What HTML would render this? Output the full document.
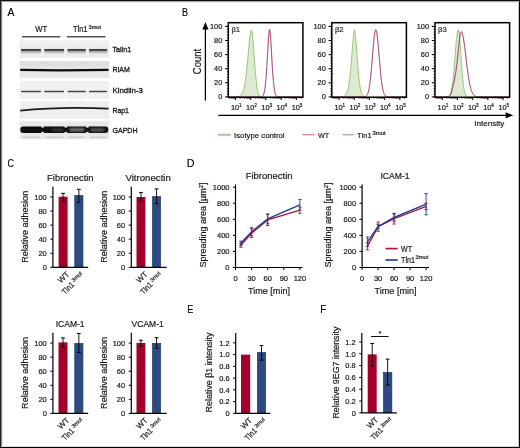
<!DOCTYPE html><html><head><meta charset="utf-8"><style>html,body{margin:0;padding:0;background:#fff;overflow:hidden}svg{display:block;will-change:transform}text{font-family:"Liberation Sans",sans-serif;stroke:#1a1a1a;stroke-width:0.2px;paint-order:stroke}</style></head><body>
<svg width="520" height="448" viewBox="0 0 520 448">
<defs><filter id="b1" x="-10%" y="-200%" width="120%" height="500%"><feGaussianBlur stdDeviation="0.6"/></filter><filter id="b2" x="-10%" y="-200%" width="120%" height="500%"><feGaussianBlur stdDeviation="0.9"/></filter><filter id="b3" x="-10%" y="-50%" width="120%" height="200%"><feGaussianBlur stdDeviation="0.5"/></filter></defs>
<rect x="0.00" y="0.00" width="520.00" height="448.00" fill="#fff" />
<rect x="0" y="0" width="520" height="1" fill="#0d0d0d"/><rect x="0" y="1" width="520" height="1" fill="#a6a6a6"/><rect x="0" y="2" width="520" height="1" fill="#f0f0f0"/>
<rect x="0" y="0" width="1" height="448" fill="#1e1e1e"/><rect x="1" y="1" width="1" height="447" fill="#8a8a8a"/><rect x="2" y="2" width="1" height="446" fill="#e4e4e4"/>
<rect x="519" y="0" width="1" height="448" fill="#000"/><rect x="518" y="1" width="1" height="446" fill="#c8c8c8"/>
<rect x="0" y="447" width="520" height="1" fill="#000"/><rect x="1" y="446" width="518" height="1" fill="#d8d8d8"/>
<text x="7.60" y="16.00" font-size="11.5" text-anchor="start" fill="#000" textLength="6.90" lengthAdjust="spacingAndGlyphs" style="stroke:#000;stroke-width:0.15px">A</text>
<text x="182.00" y="15.80" font-size="11.5" text-anchor="start" fill="#000" textLength="6.00" lengthAdjust="spacingAndGlyphs" style="stroke:#000;stroke-width:0.15px">B</text>
<text x="7.50" y="167.00" font-size="11.5" text-anchor="start" fill="#000" textLength="6.50" lengthAdjust="spacingAndGlyphs" style="stroke:#000;stroke-width:0.15px">C</text>
<text x="186.80" y="166.70" font-size="11.5" text-anchor="start" fill="#000" textLength="7.80" lengthAdjust="spacingAndGlyphs" style="stroke:#000;stroke-width:0.15px">D</text>
<text x="187.30" y="312.60" font-size="11.5" text-anchor="start" fill="#000" textLength="6.00" lengthAdjust="spacingAndGlyphs" style="stroke:#000;stroke-width:0.15px">E</text>
<text x="320.30" y="313.00" font-size="11.5" text-anchor="start" fill="#000" textLength="5.90" lengthAdjust="spacingAndGlyphs" style="stroke:#000;stroke-width:0.15px">F</text>
<text x="35.30" y="32.20" font-size="8.2" text-anchor="start" fill="#1a1a1a" textLength="11.90" lengthAdjust="spacingAndGlyphs" >WT</text>
<text x="72.90" y="32.20" font-size="8.2" text-anchor="start" fill="#1a1a1a" textLength="14.60" lengthAdjust="spacingAndGlyphs" >Tln1</text>
<text x="88.50" y="28.60" font-size="5.0" text-anchor="start" fill="#1a1a1a" textLength="12.60" lengthAdjust="spacingAndGlyphs" >3mut</text>
<line x1="22.00" y1="36.80" x2="60.40" y2="36.80" stroke="#555" stroke-width="1.4" />
<line x1="67.00" y1="36.80" x2="105.40" y2="36.80" stroke="#555" stroke-width="1.4" />
<defs><linearGradient id="talg" x1="0" y1="0" x2="0" y2="1"><stop offset="0" stop-color="#e9e9e9"/><stop offset="0.16" stop-color="#383838"/><stop offset="0.34" stop-color="#454545"/><stop offset="0.52" stop-color="#9c9c9c"/><stop offset="0.78" stop-color="#c8c8c8"/><stop offset="1" stop-color="#e8e8e8"/></linearGradient><linearGradient id="lanebg" x1="0" y1="0" x2="1" y2="0"><stop offset="0" stop-color="#e4e4e4"/><stop offset="0.5" stop-color="#ebebeb"/><stop offset="1" stop-color="#e4e4e4"/></linearGradient></defs>
<rect x="19.60" y="40.40" width="89.60" height="17.40" fill="#ececec" filter="url(#b3)"/>
<rect x="41.40" y="40.90" width="2.40" height="16.40" fill="#f0f0f0" filter="url(#b3)"/>
<rect x="64.50" y="40.90" width="2.60" height="16.40" fill="#f0f0f0" filter="url(#b3)"/>
<rect x="86.20" y="40.90" width="2.40" height="16.40" fill="#f0f0f0" filter="url(#b3)"/>
<rect x="19.60" y="40.40" width="89.60" height="3.00" fill="#f2f2f2" filter="url(#b3)"/>
<rect x="21.00" y="48.5" width="20.00" height="5.4" fill="url(#talg)" rx="1" filter="url(#b1)"/>
<rect x="44.20" y="48.5" width="19.90" height="5.4" fill="url(#talg)" rx="1" filter="url(#b1)"/>
<rect x="67.50" y="48.5" width="18.30" height="5.4" fill="url(#talg)" rx="1" filter="url(#b1)"/>
<rect x="89.00" y="48.5" width="18.20" height="5.4" fill="url(#talg)" rx="1" filter="url(#b1)"/>
<rect x="19.60" y="61.00" width="89.60" height="17.20" fill="#e6e6e6" filter="url(#b3)"/>
<rect x="19.60" y="61.20" width="89.60" height="5.00" fill="#dfdfdf" filter="url(#b3)"/>
<path d="M20.2,69.9 L60,70.4 L108.6,69.9" stroke="#111" stroke-width="2.1" fill="none" filter="url(#b1)"/>
<rect x="19.60" y="81.00" width="89.60" height="17.80" fill="#f0f0f0" filter="url(#b3)"/>
<rect x="41.40" y="81.50" width="2.40" height="16.80" fill="#f4f4f4" filter="url(#b3)"/>
<rect x="64.50" y="81.50" width="2.60" height="16.80" fill="#f4f4f4" filter="url(#b3)"/>
<rect x="86.20" y="81.50" width="2.40" height="16.80" fill="#f4f4f4" filter="url(#b3)"/>
<rect x="21.00" y="90.8" width="20.00" height="1.5" fill="#444" rx="0.75" filter="url(#b1)"/>
<rect x="44.20" y="90.8" width="19.90" height="1.5" fill="#444" rx="0.75" filter="url(#b1)"/>
<rect x="67.50" y="90.8" width="18.30" height="1.5" fill="#444" rx="0.75" filter="url(#b1)"/>
<rect x="89.00" y="90.8" width="18.20" height="1.5" fill="#444" rx="0.75" filter="url(#b1)"/>
<rect x="19.60" y="101.00" width="89.60" height="17.80" fill="#eeeeee" filter="url(#b3)"/>
<path d="M20.2,110.6 Q60,106.6 108.6,108.6" stroke="#1a1a1a" stroke-width="1.65" fill="none" filter="url(#b1)"/>
<rect x="19.60" y="121.30" width="89.60" height="18.00" fill="#e8e8e8" filter="url(#b3)"/>
<rect x="41.40" y="121.80" width="2.40" height="17.00" fill="#ececec" filter="url(#b3)"/>
<rect x="64.50" y="121.80" width="2.60" height="17.00" fill="#ececec" filter="url(#b3)"/>
<rect x="86.20" y="121.80" width="2.40" height="17.00" fill="#ececec" filter="url(#b3)"/>
<rect x="20.3" y="126.6" width="88.0" height="6.3" rx="3" fill="#0b0b0b" filter="url(#b1)"/>
<ellipse cx="42.6" cy="126.4" rx="1.5" ry="1.3" fill="#e2e2e2" filter="url(#b1)"/>
<ellipse cx="42.6" cy="133.1" rx="1.5" ry="1.3" fill="#e2e2e2" filter="url(#b1)"/>
<ellipse cx="65.8" cy="126.4" rx="1.5" ry="1.3" fill="#e2e2e2" filter="url(#b1)"/>
<ellipse cx="65.8" cy="133.1" rx="1.5" ry="1.3" fill="#e2e2e2" filter="url(#b1)"/>
<ellipse cx="87.4" cy="126.4" rx="1.5" ry="1.3" fill="#e2e2e2" filter="url(#b1)"/>
<ellipse cx="87.4" cy="133.1" rx="1.5" ry="1.3" fill="#e2e2e2" filter="url(#b1)"/>
<ellipse cx="57.5" cy="130.0" rx="6.5" ry="1.6" fill="#3a3a3a" filter="url(#b2)"/>
<rect x="69.0" y="128.0" width="15.5" height="3.6" rx="1.8" fill="#737373" filter="url(#b2)"/>
<rect x="90.0" y="128.2" width="14.5" height="3.2" rx="1.6" fill="#5e5e5e" filter="url(#b2)"/>
<rect x="22.00" y="136.60" width="18.00" height="1.40" fill="#cdcdcd" filter="url(#b1)"/>
<rect x="45.20" y="136.60" width="17.90" height="1.40" fill="#cdcdcd" filter="url(#b1)"/>
<rect x="68.50" y="136.60" width="16.30" height="1.40" fill="#cdcdcd" filter="url(#b1)"/>
<rect x="90.00" y="136.60" width="16.20" height="1.40" fill="#cdcdcd" filter="url(#b1)"/>
<text x="112.40" y="51.90" font-size="8.1" text-anchor="start" fill="#1a1a1a" textLength="18.80" lengthAdjust="spacingAndGlyphs" style="stroke-width:0.32px">Talin1</text>
<text x="112.40" y="72.00" font-size="8.1" text-anchor="start" fill="#1a1a1a" textLength="17.40" lengthAdjust="spacingAndGlyphs" style="stroke-width:0.32px">RIAM</text>
<text x="112.40" y="92.70" font-size="8.1" text-anchor="start" fill="#1a1a1a" textLength="30.60" lengthAdjust="spacingAndGlyphs" style="stroke-width:0.32px">Kindlin-3</text>
<text x="112.40" y="112.50" font-size="8.1" text-anchor="start" fill="#1a1a1a" textLength="16.60" lengthAdjust="spacingAndGlyphs" style="stroke-width:0.32px">Rap1</text>
<text x="112.40" y="132.50" font-size="8.1" text-anchor="start" fill="#1a1a1a" textLength="25.20" lengthAdjust="spacingAndGlyphs" style="stroke-width:0.32px">GAPDH</text>
<clipPath id="cp228"><rect x="228.3" y="22.7" width="74.6" height="74.6"/></clipPath>
<g clip-path="url(#cp228)">
<path d="M228.3,96.90 L228.6,96.90 L228.9,96.90 L229.2,96.90 L229.5,96.90 L229.9,96.90 L230.2,96.90 L230.5,96.90 L230.8,96.90 L231.1,96.90 L231.4,96.90 L231.7,96.90 L232.0,96.90 L232.3,96.90 L232.7,96.90 L233.0,96.90 L233.3,96.89 L233.6,96.89 L233.9,96.89 L234.2,96.89 L234.5,96.88 L234.8,96.88 L235.1,96.87 L235.4,96.86 L235.8,96.85 L236.1,96.84 L236.4,96.82 L236.7,96.80 L237.0,96.78 L237.3,96.74 L237.6,96.70 L237.9,96.65 L238.2,96.59 L238.6,96.52 L238.9,96.43 L239.2,96.32 L239.5,96.18 L239.8,96.02 L240.1,95.83 L240.4,95.59 L240.7,95.32 L241.0,94.99 L241.4,94.61 L241.7,94.16 L242.0,93.64 L242.3,93.03 L242.6,92.32 L242.9,91.51 L243.2,90.59 L243.5,89.53 L243.8,88.34 L244.2,87.00 L244.5,85.50 L244.8,83.82 L245.1,81.98 L245.4,79.94 L245.7,77.73 L246.0,75.32 L246.3,72.74 L246.6,69.97 L246.9,67.04 L247.3,63.96 L247.6,60.76 L247.9,57.46 L248.2,54.09 L248.5,50.71 L248.8,47.35 L249.1,44.06 L249.4,40.93 L249.7,38.00 L250.1,35.36 L250.4,33.09 L250.7,31.30 L251.0,30.11 L251.3,29.82 L251.6,30.44 L251.9,31.77 L252.2,33.78 L252.5,36.41 L252.9,39.57 L253.2,43.16 L253.5,47.08 L253.8,51.23 L254.1,55.49 L254.4,59.77 L254.7,63.98 L255.0,68.03 L255.3,71.86 L255.7,75.42 L256.0,78.68 L256.3,81.62 L256.6,84.22 L256.9,86.50 L257.2,88.46 L257.5,90.13 L257.8,91.53 L258.1,92.68 L258.5,93.63 L258.8,94.39 L259.1,94.99 L259.4,95.47 L259.7,95.84 L260.0,96.12 L260.3,96.33 L260.6,96.49 L260.9,96.61 L261.2,96.70 L261.6,96.76 L261.9,96.80 L262.2,96.83 L262.5,96.86 L262.8,96.87 L263.1,96.88 L263.4,96.89 L263.7,96.89 L264.0,96.89 L264.4,96.90 L264.7,96.90 L265.0,96.90 L265.3,96.90 L265.6,96.90 L265.9,96.90 L266.2,96.90 L266.5,96.90 L266.8,96.90 L267.2,96.90 L267.5,96.90 L267.8,96.90 L268.1,96.90 L268.4,96.90 L268.7,96.90 L269.0,96.90 L269.3,96.90 L269.6,96.90 L270.0,96.90 L270.3,96.90 L270.6,96.90 L270.9,96.90 L271.2,96.90 L271.5,96.90 L271.8,96.90 L272.1,96.90 L272.4,96.90 L272.7,96.90 L273.1,96.90 L273.4,96.90 L273.7,96.90 L274.0,96.90 L274.3,96.90 L274.6,96.90 L274.9,96.90 L275.2,96.90 L275.5,96.90 L275.9,96.90 L276.2,96.90 L276.5,96.90 L276.8,96.90 L277.1,96.90 L277.4,96.90 L277.7,96.90 L278.0,96.90 L278.3,96.90 L278.7,96.90 L279.0,96.90 L279.3,96.90 L279.6,96.90 L279.9,96.90 L280.2,96.90 L280.5,96.90 L280.8,96.90 L281.1,96.90 L281.5,96.90 L281.8,96.90 L282.1,96.90 L282.4,96.90 L282.7,96.90 L283.0,96.90 L283.3,96.90 L283.6,96.90 L283.9,96.90 L284.2,96.90 L284.6,96.90 L284.9,96.90 L285.2,96.90 L285.5,96.90 L285.8,96.90 L286.1,96.90 L286.4,96.90 L286.7,96.90 L287.0,96.90 L287.4,96.90 L287.7,96.90 L288.0,96.90 L288.3,96.90 L288.6,96.90 L288.9,96.90 L289.2,96.90 L289.5,96.90 L289.8,96.90 L290.2,96.90 L290.5,96.90 L290.8,96.90 L291.1,96.90 L291.4,96.90 L291.7,96.90 L292.0,96.90 L292.3,96.90 L292.6,96.90 L293.0,96.90 L293.3,96.90 L293.6,96.90 L293.9,96.90 L294.2,96.90 L294.5,96.90 L294.8,96.90 L295.1,96.90 L295.4,96.90 L295.8,96.90 L296.1,96.90 L296.4,96.90 L296.7,96.90 L297.0,96.90 L297.3,96.90 L297.6,96.90 L297.9,96.90 L298.2,96.90 L298.5,96.90 L298.9,96.90 L299.2,96.90 L299.5,96.90 L299.8,96.90 L300.1,96.90 L300.4,96.90 L300.7,96.90 L301.0,96.90 L301.3,96.90 L301.7,96.90 L302.0,96.90 L302.3,96.90 L302.6,96.90 L302.9,96.90 L302.9,98.9 L228.3,98.9 Z" fill="#dde9d0" stroke="none"/>
<path d="M228.3,96.90 L228.6,96.90 L228.9,96.90 L229.2,96.90 L229.5,96.90 L229.9,96.90 L230.2,96.90 L230.5,96.90 L230.8,96.90 L231.1,96.90 L231.4,96.90 L231.7,96.90 L232.0,96.90 L232.3,96.90 L232.7,96.90 L233.0,96.90 L233.3,96.89 L233.6,96.89 L233.9,96.89 L234.2,96.89 L234.5,96.88 L234.8,96.88 L235.1,96.87 L235.4,96.86 L235.8,96.85 L236.1,96.84 L236.4,96.82 L236.7,96.80 L237.0,96.78 L237.3,96.74 L237.6,96.70 L237.9,96.65 L238.2,96.59 L238.6,96.52 L238.9,96.43 L239.2,96.32 L239.5,96.18 L239.8,96.02 L240.1,95.83 L240.4,95.59 L240.7,95.32 L241.0,94.99 L241.4,94.61 L241.7,94.16 L242.0,93.64 L242.3,93.03 L242.6,92.32 L242.9,91.51 L243.2,90.59 L243.5,89.53 L243.8,88.34 L244.2,87.00 L244.5,85.50 L244.8,83.82 L245.1,81.98 L245.4,79.94 L245.7,77.73 L246.0,75.32 L246.3,72.74 L246.6,69.97 L246.9,67.04 L247.3,63.96 L247.6,60.76 L247.9,57.46 L248.2,54.09 L248.5,50.71 L248.8,47.35 L249.1,44.06 L249.4,40.93 L249.7,38.00 L250.1,35.36 L250.4,33.09 L250.7,31.30 L251.0,30.11 L251.3,29.82 L251.6,30.44 L251.9,31.77 L252.2,33.78 L252.5,36.41 L252.9,39.57 L253.2,43.16 L253.5,47.08 L253.8,51.23 L254.1,55.49 L254.4,59.77 L254.7,63.98 L255.0,68.03 L255.3,71.86 L255.7,75.42 L256.0,78.68 L256.3,81.62 L256.6,84.22 L256.9,86.50 L257.2,88.46 L257.5,90.13 L257.8,91.53 L258.1,92.68 L258.5,93.63 L258.8,94.39 L259.1,94.99 L259.4,95.47 L259.7,95.84 L260.0,96.12 L260.3,96.33 L260.6,96.49 L260.9,96.61 L261.2,96.70 L261.6,96.76 L261.9,96.80 L262.2,96.83 L262.5,96.86 L262.8,96.87 L263.1,96.88 L263.4,96.89 L263.7,96.89 L264.0,96.89 L264.4,96.90 L264.7,96.90 L265.0,96.90 L265.3,96.90 L265.6,96.90 L265.9,96.90 L266.2,96.90 L266.5,96.90 L266.8,96.90 L267.2,96.90 L267.5,96.90 L267.8,96.90 L268.1,96.90 L268.4,96.90 L268.7,96.90 L269.0,96.90 L269.3,96.90 L269.6,96.90 L270.0,96.90 L270.3,96.90 L270.6,96.90 L270.9,96.90 L271.2,96.90 L271.5,96.90 L271.8,96.90 L272.1,96.90 L272.4,96.90 L272.7,96.90 L273.1,96.90 L273.4,96.90 L273.7,96.90 L274.0,96.90 L274.3,96.90 L274.6,96.90 L274.9,96.90 L275.2,96.90 L275.5,96.90 L275.9,96.90 L276.2,96.90 L276.5,96.90 L276.8,96.90 L277.1,96.90 L277.4,96.90 L277.7,96.90 L278.0,96.90 L278.3,96.90 L278.7,96.90 L279.0,96.90 L279.3,96.90 L279.6,96.90 L279.9,96.90 L280.2,96.90 L280.5,96.90 L280.8,96.90 L281.1,96.90 L281.5,96.90 L281.8,96.90 L282.1,96.90 L282.4,96.90 L282.7,96.90 L283.0,96.90 L283.3,96.90 L283.6,96.90 L283.9,96.90 L284.2,96.90 L284.6,96.90 L284.9,96.90 L285.2,96.90 L285.5,96.90 L285.8,96.90 L286.1,96.90 L286.4,96.90 L286.7,96.90 L287.0,96.90 L287.4,96.90 L287.7,96.90 L288.0,96.90 L288.3,96.90 L288.6,96.90 L288.9,96.90 L289.2,96.90 L289.5,96.90 L289.8,96.90 L290.2,96.90 L290.5,96.90 L290.8,96.90 L291.1,96.90 L291.4,96.90 L291.7,96.90 L292.0,96.90 L292.3,96.90 L292.6,96.90 L293.0,96.90 L293.3,96.90 L293.6,96.90 L293.9,96.90 L294.2,96.90 L294.5,96.90 L294.8,96.90 L295.1,96.90 L295.4,96.90 L295.8,96.90 L296.1,96.90 L296.4,96.90 L296.7,96.90 L297.0,96.90 L297.3,96.90 L297.6,96.90 L297.9,96.90 L298.2,96.90 L298.5,96.90 L298.9,96.90 L299.2,96.90 L299.5,96.90 L299.8,96.90 L300.1,96.90 L300.4,96.90 L300.7,96.90 L301.0,96.90 L301.3,96.90 L301.7,96.90 L302.0,96.90 L302.3,96.90 L302.6,96.90 L302.9,96.90" fill="none" stroke="#8cc46a" stroke-width="0.9"/>
<path d="M228.3,96.90 L228.6,96.90 L228.9,96.90 L229.2,96.90 L229.5,96.90 L229.9,96.90 L230.2,96.90 L230.5,96.90 L230.8,96.90 L231.1,96.90 L231.4,96.90 L231.7,96.90 L232.0,96.90 L232.3,96.90 L232.7,96.90 L233.0,96.90 L233.3,96.90 L233.6,96.90 L233.9,96.90 L234.2,96.90 L234.5,96.90 L234.8,96.90 L235.1,96.90 L235.4,96.90 L235.8,96.90 L236.1,96.90 L236.4,96.90 L236.7,96.90 L237.0,96.90 L237.3,96.90 L237.6,96.90 L237.9,96.90 L238.2,96.90 L238.6,96.90 L238.9,96.90 L239.2,96.90 L239.5,96.90 L239.8,96.90 L240.1,96.90 L240.4,96.90 L240.7,96.90 L241.0,96.90 L241.4,96.90 L241.7,96.90 L242.0,96.90 L242.3,96.90 L242.6,96.90 L242.9,96.90 L243.2,96.90 L243.5,96.90 L243.8,96.90 L244.2,96.90 L244.5,96.90 L244.8,96.90 L245.1,96.90 L245.4,96.90 L245.7,96.90 L246.0,96.90 L246.3,96.90 L246.6,96.90 L246.9,96.90 L247.3,96.90 L247.6,96.90 L247.9,96.90 L248.2,96.90 L248.5,96.90 L248.8,96.90 L249.1,96.90 L249.4,96.90 L249.7,96.90 L250.1,96.90 L250.4,96.90 L250.7,96.90 L251.0,96.90 L251.3,96.90 L251.6,96.90 L251.9,96.90 L252.2,96.90 L252.5,96.90 L252.9,96.90 L253.2,96.90 L253.5,96.90 L253.8,96.90 L254.1,96.90 L254.4,96.90 L254.7,96.90 L255.0,96.90 L255.3,96.90 L255.7,96.90 L256.0,96.90 L256.3,96.90 L256.6,96.90 L256.9,96.90 L257.2,96.90 L257.5,96.90 L257.8,96.90 L258.1,96.90 L258.5,96.90 L258.8,96.90 L259.1,96.89 L259.4,96.89 L259.7,96.89 L260.0,96.88 L260.3,96.86 L260.6,96.84 L260.9,96.81 L261.2,96.76 L261.6,96.68 L261.9,96.57 L262.2,96.42 L262.5,96.20 L262.8,95.89 L263.1,95.48 L263.4,94.91 L263.7,94.15 L264.0,93.17 L264.4,91.90 L264.7,90.30 L265.0,88.31 L265.3,85.88 L265.6,82.97 L265.9,79.56 L266.2,75.64 L266.5,71.22 L266.8,66.37 L267.2,61.17 L267.5,55.76 L267.8,50.30 L268.1,44.99 L268.4,40.08 L268.7,35.80 L269.0,32.43 L269.3,30.22 L269.6,29.52 L270.0,30.67 L270.3,33.21 L270.6,36.85 L270.9,41.32 L271.2,46.36 L271.5,51.72 L271.8,57.19 L272.1,62.56 L272.4,67.68 L272.7,72.43 L273.1,76.72 L273.4,80.51 L273.7,83.78 L274.0,86.56 L274.3,88.87 L274.6,90.76 L274.9,92.27 L275.2,93.45 L275.5,94.37 L275.9,95.07 L276.2,95.60 L276.5,95.98 L276.8,96.27 L277.1,96.47 L277.4,96.61 L277.7,96.71 L278.0,96.77 L278.3,96.82 L278.7,96.85 L279.0,96.87 L279.3,96.88 L279.6,96.89 L279.9,96.89 L280.2,96.90 L280.5,96.90 L280.8,96.90 L281.1,96.90 L281.5,96.90 L281.8,96.90 L282.1,96.90 L282.4,96.90 L282.7,96.90 L283.0,96.90 L283.3,96.90 L283.6,96.90 L283.9,96.90 L284.2,96.90 L284.6,96.90 L284.9,96.90 L285.2,96.90 L285.5,96.90 L285.8,96.90 L286.1,96.90 L286.4,96.90 L286.7,96.90 L287.0,96.90 L287.4,96.90 L287.7,96.90 L288.0,96.90 L288.3,96.90 L288.6,96.90 L288.9,96.90 L289.2,96.90 L289.5,96.90 L289.8,96.90 L290.2,96.90 L290.5,96.90 L290.8,96.90 L291.1,96.90 L291.4,96.90 L291.7,96.90 L292.0,96.90 L292.3,96.90 L292.6,96.90 L293.0,96.90 L293.3,96.90 L293.6,96.90 L293.9,96.90 L294.2,96.90 L294.5,96.90 L294.8,96.90 L295.1,96.90 L295.4,96.90 L295.8,96.90 L296.1,96.90 L296.4,96.90 L296.7,96.90 L297.0,96.90 L297.3,96.90 L297.6,96.90 L297.9,96.90 L298.2,96.90 L298.5,96.90 L298.9,96.90 L299.2,96.90 L299.5,96.90 L299.8,96.90 L300.1,96.90 L300.4,96.90 L300.7,96.90 L301.0,96.90 L301.3,96.90 L301.7,96.90 L302.0,96.90 L302.3,96.90 L302.6,96.90 L302.9,96.90" fill="none" stroke="#bf2f58" stroke-width="0.85"/>
<path d="M228.3,96.90 L228.6,96.90 L228.9,96.90 L229.2,96.90 L229.5,96.90 L229.9,96.90 L230.2,96.90 L230.5,96.90 L230.8,96.90 L231.1,96.90 L231.4,96.90 L231.7,96.90 L232.0,96.90 L232.3,96.90 L232.7,96.90 L233.0,96.90 L233.3,96.90 L233.6,96.90 L233.9,96.90 L234.2,96.90 L234.5,96.90 L234.8,96.90 L235.1,96.90 L235.4,96.90 L235.8,96.90 L236.1,96.90 L236.4,96.90 L236.7,96.90 L237.0,96.90 L237.3,96.90 L237.6,96.90 L237.9,96.90 L238.2,96.90 L238.6,96.90 L238.9,96.90 L239.2,96.90 L239.5,96.90 L239.8,96.90 L240.1,96.90 L240.4,96.90 L240.7,96.90 L241.0,96.90 L241.4,96.90 L241.7,96.90 L242.0,96.90 L242.3,96.90 L242.6,96.90 L242.9,96.90 L243.2,96.90 L243.5,96.90 L243.8,96.90 L244.2,96.90 L244.5,96.90 L244.8,96.90 L245.1,96.90 L245.4,96.90 L245.7,96.90 L246.0,96.90 L246.3,96.90 L246.6,96.90 L246.9,96.90 L247.3,96.90 L247.6,96.90 L247.9,96.90 L248.2,96.90 L248.5,96.90 L248.8,96.90 L249.1,96.90 L249.4,96.90 L249.7,96.90 L250.1,96.90 L250.4,96.90 L250.7,96.90 L251.0,96.90 L251.3,96.90 L251.6,96.90 L251.9,96.90 L252.2,96.90 L252.5,96.90 L252.9,96.90 L253.2,96.90 L253.5,96.90 L253.8,96.90 L254.1,96.90 L254.4,96.90 L254.7,96.90 L255.0,96.90 L255.3,96.90 L255.7,96.90 L256.0,96.90 L256.3,96.90 L256.6,96.90 L256.9,96.90 L257.2,96.90 L257.5,96.90 L257.8,96.90 L258.1,96.90 L258.5,96.90 L258.8,96.90 L259.1,96.89 L259.4,96.89 L259.7,96.88 L260.0,96.88 L260.3,96.86 L260.6,96.84 L260.9,96.80 L261.2,96.74 L261.6,96.66 L261.9,96.54 L262.2,96.37 L262.5,96.12 L262.8,95.78 L263.1,95.30 L263.4,94.66 L263.7,93.81 L264.0,92.69 L264.4,91.25 L264.7,89.44 L265.0,87.20 L265.3,84.47 L265.6,81.22 L265.9,77.44 L266.2,73.13 L266.5,68.33 L266.8,63.12 L267.2,57.62 L267.5,52.01 L267.8,46.48 L268.1,41.28 L268.4,36.68 L268.7,32.96 L269.0,30.39 L269.3,29.30 L269.6,30.12 L270.0,32.42 L270.3,35.87 L270.6,40.21 L270.9,45.18 L271.2,50.51 L271.5,56.00 L271.8,61.42 L272.1,66.61 L272.4,71.45 L272.7,75.85 L273.1,79.75 L273.4,83.14 L273.7,86.02 L274.0,88.43 L274.3,90.40 L274.6,91.98 L274.9,93.23 L275.2,94.20 L275.5,94.95 L275.9,95.50 L276.2,95.92 L276.5,96.22 L276.8,96.43 L277.1,96.58 L277.4,96.69 L277.7,96.76 L278.0,96.81 L278.3,96.84 L278.7,96.86 L279.0,96.88 L279.3,96.89 L279.6,96.89 L279.9,96.89 L280.2,96.90 L280.5,96.90 L280.8,96.90 L281.1,96.90 L281.5,96.90 L281.8,96.90 L282.1,96.90 L282.4,96.90 L282.7,96.90 L283.0,96.90 L283.3,96.90 L283.6,96.90 L283.9,96.90 L284.2,96.90 L284.6,96.90 L284.9,96.90 L285.2,96.90 L285.5,96.90 L285.8,96.90 L286.1,96.90 L286.4,96.90 L286.7,96.90 L287.0,96.90 L287.4,96.90 L287.7,96.90 L288.0,96.90 L288.3,96.90 L288.6,96.90 L288.9,96.90 L289.2,96.90 L289.5,96.90 L289.8,96.90 L290.2,96.90 L290.5,96.90 L290.8,96.90 L291.1,96.90 L291.4,96.90 L291.7,96.90 L292.0,96.90 L292.3,96.90 L292.6,96.90 L293.0,96.90 L293.3,96.90 L293.6,96.90 L293.9,96.90 L294.2,96.90 L294.5,96.90 L294.8,96.90 L295.1,96.90 L295.4,96.90 L295.8,96.90 L296.1,96.90 L296.4,96.90 L296.7,96.90 L297.0,96.90 L297.3,96.90 L297.6,96.90 L297.9,96.90 L298.2,96.90 L298.5,96.90 L298.9,96.90 L299.2,96.90 L299.5,96.90 L299.8,96.90 L300.1,96.90 L300.4,96.90 L300.7,96.90 L301.0,96.90 L301.3,96.90 L301.7,96.90 L302.0,96.90 L302.3,96.90 L302.6,96.90 L302.9,96.90" fill="none" stroke="#3a3f8e" stroke-width="0.8" stroke-opacity="0.28"/>
</g>
<rect x="228.3" y="22.7" width="74.6" height="74.6" fill="none" stroke="#000" stroke-width="1.5"/>
<line x1="225.10" y1="96.90" x2="228.30" y2="96.90" stroke="#000" stroke-width="1.1" />
<line x1="226.90" y1="94.08" x2="228.30" y2="94.08" stroke="#000" stroke-width="0.8" />
<line x1="226.90" y1="91.26" x2="228.30" y2="91.26" stroke="#000" stroke-width="0.8" />
<line x1="226.90" y1="88.44" x2="228.30" y2="88.44" stroke="#000" stroke-width="0.8" />
<line x1="226.90" y1="85.62" x2="228.30" y2="85.62" stroke="#000" stroke-width="0.8" />
<line x1="225.10" y1="82.80" x2="228.30" y2="82.80" stroke="#000" stroke-width="1.1" />
<line x1="226.90" y1="79.98" x2="228.30" y2="79.98" stroke="#000" stroke-width="0.8" />
<line x1="226.90" y1="77.16" x2="228.30" y2="77.16" stroke="#000" stroke-width="0.8" />
<line x1="226.90" y1="74.34" x2="228.30" y2="74.34" stroke="#000" stroke-width="0.8" />
<line x1="226.90" y1="71.52" x2="228.30" y2="71.52" stroke="#000" stroke-width="0.8" />
<line x1="225.10" y1="68.70" x2="228.30" y2="68.70" stroke="#000" stroke-width="1.1" />
<line x1="226.90" y1="65.88" x2="228.30" y2="65.88" stroke="#000" stroke-width="0.8" />
<line x1="226.90" y1="63.06" x2="228.30" y2="63.06" stroke="#000" stroke-width="0.8" />
<line x1="226.90" y1="60.24" x2="228.30" y2="60.24" stroke="#000" stroke-width="0.8" />
<line x1="226.90" y1="57.42" x2="228.30" y2="57.42" stroke="#000" stroke-width="0.8" />
<line x1="225.10" y1="54.60" x2="228.30" y2="54.60" stroke="#000" stroke-width="1.1" />
<line x1="226.90" y1="51.78" x2="228.30" y2="51.78" stroke="#000" stroke-width="0.8" />
<line x1="226.90" y1="48.96" x2="228.30" y2="48.96" stroke="#000" stroke-width="0.8" />
<line x1="226.90" y1="46.14" x2="228.30" y2="46.14" stroke="#000" stroke-width="0.8" />
<line x1="226.90" y1="43.32" x2="228.30" y2="43.32" stroke="#000" stroke-width="0.8" />
<line x1="225.10" y1="40.50" x2="228.30" y2="40.50" stroke="#000" stroke-width="1.1" />
<line x1="226.90" y1="37.68" x2="228.30" y2="37.68" stroke="#000" stroke-width="0.8" />
<line x1="226.90" y1="34.86" x2="228.30" y2="34.86" stroke="#000" stroke-width="0.8" />
<line x1="226.90" y1="32.04" x2="228.30" y2="32.04" stroke="#000" stroke-width="0.8" />
<line x1="226.90" y1="29.22" x2="228.30" y2="29.22" stroke="#000" stroke-width="0.8" />
<line x1="225.10" y1="26.40" x2="228.30" y2="26.40" stroke="#000" stroke-width="1.1" />
<text x="222.30" y="99.20" font-size="7.4" text-anchor="end" fill="#1a1a1a" >0</text>
<text x="222.30" y="85.10" font-size="7.4" text-anchor="end" fill="#1a1a1a" >20</text>
<text x="222.30" y="71.00" font-size="7.4" text-anchor="end" fill="#1a1a1a" >40</text>
<text x="222.30" y="56.90" font-size="7.4" text-anchor="end" fill="#1a1a1a" >60</text>
<text x="222.30" y="42.80" font-size="7.4" text-anchor="end" fill="#1a1a1a" >80</text>
<text x="222.30" y="28.70" font-size="7.4" text-anchor="end" fill="#1a1a1a" >100</text>
<line x1="229.55" y1="97.30" x2="229.55" y2="98.70" stroke="#000" stroke-width="0.7" />
<line x1="231.02" y1="97.30" x2="231.02" y2="98.70" stroke="#000" stroke-width="0.7" />
<line x1="232.23" y1="97.30" x2="232.23" y2="98.70" stroke="#000" stroke-width="0.7" />
<line x1="233.25" y1="97.30" x2="233.25" y2="98.70" stroke="#000" stroke-width="0.7" />
<line x1="234.13" y1="97.30" x2="234.13" y2="98.70" stroke="#000" stroke-width="0.7" />
<line x1="234.90" y1="97.30" x2="234.90" y2="98.70" stroke="#000" stroke-width="0.7" />
<line x1="235.60" y1="97.30" x2="235.60" y2="100.10" stroke="#000" stroke-width="1.0" />
<line x1="240.18" y1="97.30" x2="240.18" y2="98.70" stroke="#000" stroke-width="0.7" />
<line x1="242.85" y1="97.30" x2="242.85" y2="98.70" stroke="#000" stroke-width="0.7" />
<line x1="244.75" y1="97.30" x2="244.75" y2="98.70" stroke="#000" stroke-width="0.7" />
<line x1="246.22" y1="97.30" x2="246.22" y2="98.70" stroke="#000" stroke-width="0.7" />
<line x1="247.43" y1="97.30" x2="247.43" y2="98.70" stroke="#000" stroke-width="0.7" />
<line x1="248.45" y1="97.30" x2="248.45" y2="98.70" stroke="#000" stroke-width="0.7" />
<line x1="249.33" y1="97.30" x2="249.33" y2="98.70" stroke="#000" stroke-width="0.7" />
<line x1="250.10" y1="97.30" x2="250.10" y2="98.70" stroke="#000" stroke-width="0.7" />
<line x1="250.80" y1="97.30" x2="250.80" y2="100.10" stroke="#000" stroke-width="1.0" />
<line x1="255.38" y1="97.30" x2="255.38" y2="98.70" stroke="#000" stroke-width="0.7" />
<line x1="258.05" y1="97.30" x2="258.05" y2="98.70" stroke="#000" stroke-width="0.7" />
<line x1="259.95" y1="97.30" x2="259.95" y2="98.70" stroke="#000" stroke-width="0.7" />
<line x1="261.42" y1="97.30" x2="261.42" y2="98.70" stroke="#000" stroke-width="0.7" />
<line x1="262.63" y1="97.30" x2="262.63" y2="98.70" stroke="#000" stroke-width="0.7" />
<line x1="263.65" y1="97.30" x2="263.65" y2="98.70" stroke="#000" stroke-width="0.7" />
<line x1="264.53" y1="97.30" x2="264.53" y2="98.70" stroke="#000" stroke-width="0.7" />
<line x1="265.30" y1="97.30" x2="265.30" y2="98.70" stroke="#000" stroke-width="0.7" />
<line x1="266.00" y1="97.30" x2="266.00" y2="100.10" stroke="#000" stroke-width="1.0" />
<line x1="270.58" y1="97.30" x2="270.58" y2="98.70" stroke="#000" stroke-width="0.7" />
<line x1="273.25" y1="97.30" x2="273.25" y2="98.70" stroke="#000" stroke-width="0.7" />
<line x1="275.15" y1="97.30" x2="275.15" y2="98.70" stroke="#000" stroke-width="0.7" />
<line x1="276.62" y1="97.30" x2="276.62" y2="98.70" stroke="#000" stroke-width="0.7" />
<line x1="277.83" y1="97.30" x2="277.83" y2="98.70" stroke="#000" stroke-width="0.7" />
<line x1="278.85" y1="97.30" x2="278.85" y2="98.70" stroke="#000" stroke-width="0.7" />
<line x1="279.73" y1="97.30" x2="279.73" y2="98.70" stroke="#000" stroke-width="0.7" />
<line x1="280.50" y1="97.30" x2="280.50" y2="98.70" stroke="#000" stroke-width="0.7" />
<line x1="281.20" y1="97.30" x2="281.20" y2="100.10" stroke="#000" stroke-width="1.0" />
<line x1="285.78" y1="97.30" x2="285.78" y2="98.70" stroke="#000" stroke-width="0.7" />
<line x1="288.45" y1="97.30" x2="288.45" y2="98.70" stroke="#000" stroke-width="0.7" />
<line x1="290.35" y1="97.30" x2="290.35" y2="98.70" stroke="#000" stroke-width="0.7" />
<line x1="291.82" y1="97.30" x2="291.82" y2="98.70" stroke="#000" stroke-width="0.7" />
<line x1="293.03" y1="97.30" x2="293.03" y2="98.70" stroke="#000" stroke-width="0.7" />
<line x1="294.05" y1="97.30" x2="294.05" y2="98.70" stroke="#000" stroke-width="0.7" />
<line x1="294.93" y1="97.30" x2="294.93" y2="98.70" stroke="#000" stroke-width="0.7" />
<line x1="295.70" y1="97.30" x2="295.70" y2="98.70" stroke="#000" stroke-width="0.7" />
<line x1="296.40" y1="97.30" x2="296.40" y2="100.10" stroke="#000" stroke-width="1.0" />
<line x1="300.98" y1="97.30" x2="300.98" y2="98.70" stroke="#000" stroke-width="0.7" />
<text x="235.00" y="110.40" font-size="7.4" text-anchor="middle" fill="#1a1a1a" >10</text>
<text x="239.00" y="107.00" font-size="4.6" text-anchor="start" fill="#1a1a1a" >1</text>
<text x="250.20" y="110.40" font-size="7.4" text-anchor="middle" fill="#1a1a1a" >10</text>
<text x="254.20" y="107.00" font-size="4.6" text-anchor="start" fill="#1a1a1a" >2</text>
<text x="265.40" y="110.40" font-size="7.4" text-anchor="middle" fill="#1a1a1a" >10</text>
<text x="269.40" y="107.00" font-size="4.6" text-anchor="start" fill="#1a1a1a" >3</text>
<text x="280.60" y="110.40" font-size="7.4" text-anchor="middle" fill="#1a1a1a" >10</text>
<text x="284.60" y="107.00" font-size="4.6" text-anchor="start" fill="#1a1a1a" >4</text>
<text x="295.80" y="110.40" font-size="7.4" text-anchor="middle" fill="#1a1a1a" >10</text>
<text x="299.80" y="107.00" font-size="4.6" text-anchor="start" fill="#1a1a1a" >5</text>
<text x="231.40" y="32.00" font-size="7.6" text-anchor="start" fill="#333" >β1</text>
<clipPath id="cp331"><rect x="331.8" y="22.7" width="74.6" height="74.6"/></clipPath>
<g clip-path="url(#cp331)">
<path d="M331.8,96.90 L332.1,96.90 L332.4,96.90 L332.7,96.90 L333.0,96.90 L333.4,96.90 L333.7,96.90 L334.0,96.90 L334.3,96.90 L334.6,96.90 L334.9,96.90 L335.2,96.90 L335.5,96.90 L335.8,96.90 L336.2,96.90 L336.5,96.90 L336.8,96.90 L337.1,96.90 L337.4,96.90 L337.7,96.90 L338.0,96.89 L338.3,96.89 L338.6,96.89 L338.9,96.89 L339.3,96.88 L339.6,96.88 L339.9,96.87 L340.2,96.87 L340.5,96.85 L340.8,96.84 L341.1,96.82 L341.4,96.80 L341.7,96.77 L342.1,96.74 L342.4,96.70 L342.7,96.64 L343.0,96.57 L343.3,96.49 L343.6,96.38 L343.9,96.26 L344.2,96.10 L344.5,95.91 L344.9,95.67 L345.2,95.39 L345.5,95.05 L345.8,94.65 L346.1,94.17 L346.4,93.59 L346.7,92.92 L347.0,92.13 L347.3,91.21 L347.7,90.15 L348.0,88.92 L348.3,87.51 L348.6,85.91 L348.9,84.10 L349.2,82.07 L349.5,79.80 L349.8,77.29 L350.1,74.53 L350.4,71.54 L350.8,68.30 L351.1,64.85 L351.4,61.20 L351.7,57.40 L352.0,53.48 L352.3,49.51 L352.6,45.57 L352.9,41.74 L353.2,38.14 L353.6,34.89 L353.9,32.17 L354.2,30.22 L354.5,29.65 L354.8,30.65 L355.1,32.56 L355.4,35.20 L355.7,38.40 L356.0,42.05 L356.4,46.01 L356.7,50.16 L357.0,54.39 L357.3,58.62 L357.6,62.74 L357.9,66.70 L358.2,70.44 L358.5,73.93 L358.8,77.13 L359.2,80.03 L359.5,82.63 L359.8,84.92 L360.1,86.93 L360.4,88.68 L360.7,90.17 L361.0,91.43 L361.3,92.50 L361.6,93.38 L362.0,94.11 L362.3,94.70 L362.6,95.19 L362.9,95.57 L363.2,95.88 L363.5,96.12 L363.8,96.31 L364.1,96.46 L364.4,96.57 L364.7,96.65 L365.1,96.72 L365.4,96.77 L365.7,96.80 L366.0,96.83 L366.3,96.85 L366.6,96.87 L366.9,96.88 L367.2,96.88 L367.5,96.89 L367.9,96.89 L368.2,96.89 L368.5,96.90 L368.8,96.90 L369.1,96.90 L369.4,96.90 L369.7,96.90 L370.0,96.90 L370.3,96.90 L370.7,96.90 L371.0,96.90 L371.3,96.90 L371.6,96.90 L371.9,96.90 L372.2,96.90 L372.5,96.90 L372.8,96.90 L373.1,96.90 L373.5,96.90 L373.8,96.90 L374.1,96.90 L374.4,96.90 L374.7,96.90 L375.0,96.90 L375.3,96.90 L375.6,96.90 L375.9,96.90 L376.2,96.90 L376.6,96.90 L376.9,96.90 L377.2,96.90 L377.5,96.90 L377.8,96.90 L378.1,96.90 L378.4,96.90 L378.7,96.90 L379.0,96.90 L379.4,96.90 L379.7,96.90 L380.0,96.90 L380.3,96.90 L380.6,96.90 L380.9,96.90 L381.2,96.90 L381.5,96.90 L381.8,96.90 L382.2,96.90 L382.5,96.90 L382.8,96.90 L383.1,96.90 L383.4,96.90 L383.7,96.90 L384.0,96.90 L384.3,96.90 L384.6,96.90 L385.0,96.90 L385.3,96.90 L385.6,96.90 L385.9,96.90 L386.2,96.90 L386.5,96.90 L386.8,96.90 L387.1,96.90 L387.4,96.90 L387.8,96.90 L388.1,96.90 L388.4,96.90 L388.7,96.90 L389.0,96.90 L389.3,96.90 L389.6,96.90 L389.9,96.90 L390.2,96.90 L390.5,96.90 L390.9,96.90 L391.2,96.90 L391.5,96.90 L391.8,96.90 L392.1,96.90 L392.4,96.90 L392.7,96.90 L393.0,96.90 L393.3,96.90 L393.7,96.90 L394.0,96.90 L394.3,96.90 L394.6,96.90 L394.9,96.90 L395.2,96.90 L395.5,96.90 L395.8,96.90 L396.1,96.90 L396.5,96.90 L396.8,96.90 L397.1,96.90 L397.4,96.90 L397.7,96.90 L398.0,96.90 L398.3,96.90 L398.6,96.90 L398.9,96.90 L399.3,96.90 L399.6,96.90 L399.9,96.90 L400.2,96.90 L400.5,96.90 L400.8,96.90 L401.1,96.90 L401.4,96.90 L401.7,96.90 L402.0,96.90 L402.4,96.90 L402.7,96.90 L403.0,96.90 L403.3,96.90 L403.6,96.90 L403.9,96.90 L404.2,96.90 L404.5,96.90 L404.8,96.90 L405.2,96.90 L405.5,96.90 L405.8,96.90 L406.1,96.90 L406.4,96.90 L406.4,98.9 L331.8,98.9 Z" fill="#dde9d0" stroke="none"/>
<path d="M331.8,96.90 L332.1,96.90 L332.4,96.90 L332.7,96.90 L333.0,96.90 L333.4,96.90 L333.7,96.90 L334.0,96.90 L334.3,96.90 L334.6,96.90 L334.9,96.90 L335.2,96.90 L335.5,96.90 L335.8,96.90 L336.2,96.90 L336.5,96.90 L336.8,96.90 L337.1,96.90 L337.4,96.90 L337.7,96.90 L338.0,96.89 L338.3,96.89 L338.6,96.89 L338.9,96.89 L339.3,96.88 L339.6,96.88 L339.9,96.87 L340.2,96.87 L340.5,96.85 L340.8,96.84 L341.1,96.82 L341.4,96.80 L341.7,96.77 L342.1,96.74 L342.4,96.70 L342.7,96.64 L343.0,96.57 L343.3,96.49 L343.6,96.38 L343.9,96.26 L344.2,96.10 L344.5,95.91 L344.9,95.67 L345.2,95.39 L345.5,95.05 L345.8,94.65 L346.1,94.17 L346.4,93.59 L346.7,92.92 L347.0,92.13 L347.3,91.21 L347.7,90.15 L348.0,88.92 L348.3,87.51 L348.6,85.91 L348.9,84.10 L349.2,82.07 L349.5,79.80 L349.8,77.29 L350.1,74.53 L350.4,71.54 L350.8,68.30 L351.1,64.85 L351.4,61.20 L351.7,57.40 L352.0,53.48 L352.3,49.51 L352.6,45.57 L352.9,41.74 L353.2,38.14 L353.6,34.89 L353.9,32.17 L354.2,30.22 L354.5,29.65 L354.8,30.65 L355.1,32.56 L355.4,35.20 L355.7,38.40 L356.0,42.05 L356.4,46.01 L356.7,50.16 L357.0,54.39 L357.3,58.62 L357.6,62.74 L357.9,66.70 L358.2,70.44 L358.5,73.93 L358.8,77.13 L359.2,80.03 L359.5,82.63 L359.8,84.92 L360.1,86.93 L360.4,88.68 L360.7,90.17 L361.0,91.43 L361.3,92.50 L361.6,93.38 L362.0,94.11 L362.3,94.70 L362.6,95.19 L362.9,95.57 L363.2,95.88 L363.5,96.12 L363.8,96.31 L364.1,96.46 L364.4,96.57 L364.7,96.65 L365.1,96.72 L365.4,96.77 L365.7,96.80 L366.0,96.83 L366.3,96.85 L366.6,96.87 L366.9,96.88 L367.2,96.88 L367.5,96.89 L367.9,96.89 L368.2,96.89 L368.5,96.90 L368.8,96.90 L369.1,96.90 L369.4,96.90 L369.7,96.90 L370.0,96.90 L370.3,96.90 L370.7,96.90 L371.0,96.90 L371.3,96.90 L371.6,96.90 L371.9,96.90 L372.2,96.90 L372.5,96.90 L372.8,96.90 L373.1,96.90 L373.5,96.90 L373.8,96.90 L374.1,96.90 L374.4,96.90 L374.7,96.90 L375.0,96.90 L375.3,96.90 L375.6,96.90 L375.9,96.90 L376.2,96.90 L376.6,96.90 L376.9,96.90 L377.2,96.90 L377.5,96.90 L377.8,96.90 L378.1,96.90 L378.4,96.90 L378.7,96.90 L379.0,96.90 L379.4,96.90 L379.7,96.90 L380.0,96.90 L380.3,96.90 L380.6,96.90 L380.9,96.90 L381.2,96.90 L381.5,96.90 L381.8,96.90 L382.2,96.90 L382.5,96.90 L382.8,96.90 L383.1,96.90 L383.4,96.90 L383.7,96.90 L384.0,96.90 L384.3,96.90 L384.6,96.90 L385.0,96.90 L385.3,96.90 L385.6,96.90 L385.9,96.90 L386.2,96.90 L386.5,96.90 L386.8,96.90 L387.1,96.90 L387.4,96.90 L387.8,96.90 L388.1,96.90 L388.4,96.90 L388.7,96.90 L389.0,96.90 L389.3,96.90 L389.6,96.90 L389.9,96.90 L390.2,96.90 L390.5,96.90 L390.9,96.90 L391.2,96.90 L391.5,96.90 L391.8,96.90 L392.1,96.90 L392.4,96.90 L392.7,96.90 L393.0,96.90 L393.3,96.90 L393.7,96.90 L394.0,96.90 L394.3,96.90 L394.6,96.90 L394.9,96.90 L395.2,96.90 L395.5,96.90 L395.8,96.90 L396.1,96.90 L396.5,96.90 L396.8,96.90 L397.1,96.90 L397.4,96.90 L397.7,96.90 L398.0,96.90 L398.3,96.90 L398.6,96.90 L398.9,96.90 L399.3,96.90 L399.6,96.90 L399.9,96.90 L400.2,96.90 L400.5,96.90 L400.8,96.90 L401.1,96.90 L401.4,96.90 L401.7,96.90 L402.0,96.90 L402.4,96.90 L402.7,96.90 L403.0,96.90 L403.3,96.90 L403.6,96.90 L403.9,96.90 L404.2,96.90 L404.5,96.90 L404.8,96.90 L405.2,96.90 L405.5,96.90 L405.8,96.90 L406.1,96.90 L406.4,96.90" fill="none" stroke="#8cc46a" stroke-width="0.9"/>
<path d="M331.8,96.90 L332.1,96.90 L332.4,96.90 L332.7,96.90 L333.0,96.90 L333.4,96.90 L333.7,96.90 L334.0,96.90 L334.3,96.90 L334.6,96.90 L334.9,96.90 L335.2,96.90 L335.5,96.90 L335.8,96.90 L336.2,96.90 L336.5,96.90 L336.8,96.90 L337.1,96.90 L337.4,96.90 L337.7,96.90 L338.0,96.90 L338.3,96.90 L338.6,96.90 L338.9,96.90 L339.3,96.90 L339.6,96.90 L339.9,96.90 L340.2,96.90 L340.5,96.90 L340.8,96.90 L341.1,96.90 L341.4,96.90 L341.7,96.90 L342.1,96.90 L342.4,96.90 L342.7,96.90 L343.0,96.90 L343.3,96.90 L343.6,96.90 L343.9,96.90 L344.2,96.90 L344.5,96.90 L344.9,96.90 L345.2,96.90 L345.5,96.90 L345.8,96.90 L346.1,96.90 L346.4,96.90 L346.7,96.90 L347.0,96.90 L347.3,96.90 L347.7,96.90 L348.0,96.90 L348.3,96.90 L348.6,96.90 L348.9,96.90 L349.2,96.90 L349.5,96.90 L349.8,96.90 L350.1,96.90 L350.4,96.90 L350.8,96.90 L351.1,96.90 L351.4,96.90 L351.7,96.90 L352.0,96.90 L352.3,96.90 L352.6,96.90 L352.9,96.90 L353.2,96.90 L353.6,96.90 L353.9,96.90 L354.2,96.90 L354.5,96.90 L354.8,96.90 L355.1,96.90 L355.4,96.90 L355.7,96.90 L356.0,96.90 L356.4,96.90 L356.7,96.90 L357.0,96.90 L357.3,96.90 L357.6,96.90 L357.9,96.90 L358.2,96.90 L358.5,96.90 L358.8,96.90 L359.2,96.90 L359.5,96.90 L359.8,96.90 L360.1,96.90 L360.4,96.90 L360.7,96.90 L361.0,96.90 L361.3,96.90 L361.6,96.89 L362.0,96.89 L362.3,96.89 L362.6,96.88 L362.9,96.87 L363.2,96.85 L363.5,96.84 L363.8,96.81 L364.1,96.77 L364.4,96.72 L364.7,96.65 L365.1,96.56 L365.4,96.45 L365.7,96.29 L366.0,96.09 L366.3,95.84 L366.6,95.51 L366.9,95.10 L367.2,94.59 L367.5,93.97 L367.9,93.20 L368.2,92.28 L368.5,91.19 L368.8,89.89 L369.1,88.37 L369.4,86.62 L369.7,84.62 L370.0,82.36 L370.3,79.83 L370.7,77.04 L371.0,74.00 L371.3,70.73 L371.6,67.26 L371.9,63.62 L372.2,59.86 L372.5,56.04 L372.8,52.23 L373.1,48.49 L373.5,44.91 L373.8,41.55 L374.1,38.49 L374.4,35.81 L374.7,33.58 L375.0,31.84 L375.3,30.64 L375.6,30.02 L375.9,29.98 L376.2,30.52 L376.6,31.63 L376.9,33.26 L377.2,35.39 L377.5,37.95 L377.8,40.89 L378.1,44.14 L378.4,47.63 L378.7,51.28 L379.0,55.02 L379.4,58.79 L379.7,62.51 L380.0,66.14 L380.3,69.62 L380.6,72.91 L380.9,75.99 L381.2,78.83 L381.5,81.42 L381.8,83.75 L382.2,85.82 L382.5,87.65 L382.8,89.24 L383.1,90.61 L383.4,91.79 L383.7,92.77 L384.0,93.60 L384.3,94.28 L384.6,94.84 L385.0,95.30 L385.3,95.66 L385.6,95.95 L385.9,96.18 L386.2,96.36 L386.5,96.49 L386.8,96.60 L387.1,96.68 L387.4,96.74 L387.8,96.78 L388.1,96.82 L388.4,96.84 L388.7,96.86 L389.0,96.87 L389.3,96.88 L389.6,96.89 L389.9,96.89 L390.2,96.89 L390.5,96.90 L390.9,96.90 L391.2,96.90 L391.5,96.90 L391.8,96.90 L392.1,96.90 L392.4,96.90 L392.7,96.90 L393.0,96.90 L393.3,96.90 L393.7,96.90 L394.0,96.90 L394.3,96.90 L394.6,96.90 L394.9,96.90 L395.2,96.90 L395.5,96.90 L395.8,96.90 L396.1,96.90 L396.5,96.90 L396.8,96.90 L397.1,96.90 L397.4,96.90 L397.7,96.90 L398.0,96.90 L398.3,96.90 L398.6,96.90 L398.9,96.90 L399.3,96.90 L399.6,96.90 L399.9,96.90 L400.2,96.90 L400.5,96.90 L400.8,96.90 L401.1,96.90 L401.4,96.90 L401.7,96.90 L402.0,96.90 L402.4,96.90 L402.7,96.90 L403.0,96.90 L403.3,96.90 L403.6,96.90 L403.9,96.90 L404.2,96.90 L404.5,96.90 L404.8,96.90 L405.2,96.90 L405.5,96.90 L405.8,96.90 L406.1,96.90 L406.4,96.90" fill="none" stroke="#bf2f58" stroke-width="0.85"/>
<path d="M331.8,96.90 L332.1,96.90 L332.4,96.90 L332.7,96.90 L333.0,96.90 L333.4,96.90 L333.7,96.90 L334.0,96.90 L334.3,96.90 L334.6,96.90 L334.9,96.90 L335.2,96.90 L335.5,96.90 L335.8,96.90 L336.2,96.90 L336.5,96.90 L336.8,96.90 L337.1,96.90 L337.4,96.90 L337.7,96.90 L338.0,96.90 L338.3,96.90 L338.6,96.90 L338.9,96.90 L339.3,96.90 L339.6,96.90 L339.9,96.90 L340.2,96.90 L340.5,96.90 L340.8,96.90 L341.1,96.90 L341.4,96.90 L341.7,96.90 L342.1,96.90 L342.4,96.90 L342.7,96.90 L343.0,96.90 L343.3,96.90 L343.6,96.90 L343.9,96.90 L344.2,96.90 L344.5,96.90 L344.9,96.90 L345.2,96.90 L345.5,96.90 L345.8,96.90 L346.1,96.90 L346.4,96.90 L346.7,96.90 L347.0,96.90 L347.3,96.90 L347.7,96.90 L348.0,96.90 L348.3,96.90 L348.6,96.90 L348.9,96.90 L349.2,96.90 L349.5,96.90 L349.8,96.90 L350.1,96.90 L350.4,96.90 L350.8,96.90 L351.1,96.90 L351.4,96.90 L351.7,96.90 L352.0,96.90 L352.3,96.90 L352.6,96.90 L352.9,96.90 L353.2,96.90 L353.6,96.90 L353.9,96.90 L354.2,96.90 L354.5,96.90 L354.8,96.90 L355.1,96.90 L355.4,96.90 L355.7,96.90 L356.0,96.90 L356.4,96.90 L356.7,96.90 L357.0,96.90 L357.3,96.90 L357.6,96.90 L357.9,96.90 L358.2,96.90 L358.5,96.90 L358.8,96.90 L359.2,96.90 L359.5,96.90 L359.8,96.90 L360.1,96.90 L360.4,96.90 L360.7,96.90 L361.0,96.90 L361.3,96.90 L361.6,96.89 L362.0,96.89 L362.3,96.89 L362.6,96.88 L362.9,96.87 L363.2,96.86 L363.5,96.84 L363.8,96.82 L364.1,96.78 L364.4,96.73 L364.7,96.67 L365.1,96.58 L365.4,96.47 L365.7,96.31 L366.0,96.12 L366.3,95.86 L366.6,95.54 L366.9,95.13 L367.2,94.62 L367.5,93.98 L367.9,93.21 L368.2,92.27 L368.5,91.15 L368.8,89.82 L369.1,88.26 L369.4,86.46 L369.7,84.40 L370.0,82.06 L370.3,79.45 L370.7,76.56 L371.0,73.41 L371.3,70.02 L371.6,66.42 L371.9,62.66 L372.2,58.78 L372.5,54.85 L372.8,50.93 L373.1,47.11 L373.5,43.46 L373.8,40.06 L374.1,37.00 L374.4,34.35 L374.7,32.18 L375.0,30.54 L375.3,29.48 L375.6,29.03 L375.9,29.18 L376.2,29.91 L376.6,31.21 L376.9,33.03 L377.2,35.33 L377.5,38.06 L377.8,41.15 L378.1,44.53 L378.4,48.13 L378.7,51.87 L379.0,55.68 L379.4,59.49 L379.7,63.24 L380.0,66.87 L380.3,70.34 L380.6,73.61 L380.9,76.66 L381.2,79.45 L381.5,81.99 L381.8,84.27 L382.2,86.29 L382.5,88.07 L382.8,89.61 L383.1,90.93 L383.4,92.06 L383.7,93.00 L384.0,93.79 L384.3,94.44 L384.6,94.97 L385.0,95.40 L385.3,95.75 L385.6,96.02 L385.9,96.23 L386.2,96.40 L386.5,96.53 L386.8,96.62 L387.1,96.70 L387.4,96.75 L387.8,96.79 L388.1,96.82 L388.4,96.85 L388.7,96.86 L389.0,96.87 L389.3,96.88 L389.6,96.89 L389.9,96.89 L390.2,96.89 L390.5,96.90 L390.9,96.90 L391.2,96.90 L391.5,96.90 L391.8,96.90 L392.1,96.90 L392.4,96.90 L392.7,96.90 L393.0,96.90 L393.3,96.90 L393.7,96.90 L394.0,96.90 L394.3,96.90 L394.6,96.90 L394.9,96.90 L395.2,96.90 L395.5,96.90 L395.8,96.90 L396.1,96.90 L396.5,96.90 L396.8,96.90 L397.1,96.90 L397.4,96.90 L397.7,96.90 L398.0,96.90 L398.3,96.90 L398.6,96.90 L398.9,96.90 L399.3,96.90 L399.6,96.90 L399.9,96.90 L400.2,96.90 L400.5,96.90 L400.8,96.90 L401.1,96.90 L401.4,96.90 L401.7,96.90 L402.0,96.90 L402.4,96.90 L402.7,96.90 L403.0,96.90 L403.3,96.90 L403.6,96.90 L403.9,96.90 L404.2,96.90 L404.5,96.90 L404.8,96.90 L405.2,96.90 L405.5,96.90 L405.8,96.90 L406.1,96.90 L406.4,96.90" fill="none" stroke="#3a3f8e" stroke-width="0.8" stroke-opacity="0.28"/>
</g>
<rect x="331.8" y="22.7" width="74.6" height="74.6" fill="none" stroke="#000" stroke-width="1.5"/>
<line x1="328.60" y1="96.90" x2="331.80" y2="96.90" stroke="#000" stroke-width="1.1" />
<line x1="330.40" y1="94.08" x2="331.80" y2="94.08" stroke="#000" stroke-width="0.8" />
<line x1="330.40" y1="91.26" x2="331.80" y2="91.26" stroke="#000" stroke-width="0.8" />
<line x1="330.40" y1="88.44" x2="331.80" y2="88.44" stroke="#000" stroke-width="0.8" />
<line x1="330.40" y1="85.62" x2="331.80" y2="85.62" stroke="#000" stroke-width="0.8" />
<line x1="328.60" y1="82.80" x2="331.80" y2="82.80" stroke="#000" stroke-width="1.1" />
<line x1="330.40" y1="79.98" x2="331.80" y2="79.98" stroke="#000" stroke-width="0.8" />
<line x1="330.40" y1="77.16" x2="331.80" y2="77.16" stroke="#000" stroke-width="0.8" />
<line x1="330.40" y1="74.34" x2="331.80" y2="74.34" stroke="#000" stroke-width="0.8" />
<line x1="330.40" y1="71.52" x2="331.80" y2="71.52" stroke="#000" stroke-width="0.8" />
<line x1="328.60" y1="68.70" x2="331.80" y2="68.70" stroke="#000" stroke-width="1.1" />
<line x1="330.40" y1="65.88" x2="331.80" y2="65.88" stroke="#000" stroke-width="0.8" />
<line x1="330.40" y1="63.06" x2="331.80" y2="63.06" stroke="#000" stroke-width="0.8" />
<line x1="330.40" y1="60.24" x2="331.80" y2="60.24" stroke="#000" stroke-width="0.8" />
<line x1="330.40" y1="57.42" x2="331.80" y2="57.42" stroke="#000" stroke-width="0.8" />
<line x1="328.60" y1="54.60" x2="331.80" y2="54.60" stroke="#000" stroke-width="1.1" />
<line x1="330.40" y1="51.78" x2="331.80" y2="51.78" stroke="#000" stroke-width="0.8" />
<line x1="330.40" y1="48.96" x2="331.80" y2="48.96" stroke="#000" stroke-width="0.8" />
<line x1="330.40" y1="46.14" x2="331.80" y2="46.14" stroke="#000" stroke-width="0.8" />
<line x1="330.40" y1="43.32" x2="331.80" y2="43.32" stroke="#000" stroke-width="0.8" />
<line x1="328.60" y1="40.50" x2="331.80" y2="40.50" stroke="#000" stroke-width="1.1" />
<line x1="330.40" y1="37.68" x2="331.80" y2="37.68" stroke="#000" stroke-width="0.8" />
<line x1="330.40" y1="34.86" x2="331.80" y2="34.86" stroke="#000" stroke-width="0.8" />
<line x1="330.40" y1="32.04" x2="331.80" y2="32.04" stroke="#000" stroke-width="0.8" />
<line x1="330.40" y1="29.22" x2="331.80" y2="29.22" stroke="#000" stroke-width="0.8" />
<line x1="328.60" y1="26.40" x2="331.80" y2="26.40" stroke="#000" stroke-width="1.1" />
<text x="325.80" y="99.20" font-size="7.4" text-anchor="end" fill="#1a1a1a" >0</text>
<text x="325.80" y="85.10" font-size="7.4" text-anchor="end" fill="#1a1a1a" >20</text>
<text x="325.80" y="71.00" font-size="7.4" text-anchor="end" fill="#1a1a1a" >40</text>
<text x="325.80" y="56.90" font-size="7.4" text-anchor="end" fill="#1a1a1a" >60</text>
<text x="325.80" y="42.80" font-size="7.4" text-anchor="end" fill="#1a1a1a" >80</text>
<text x="325.80" y="28.70" font-size="7.4" text-anchor="end" fill="#1a1a1a" >100</text>
<line x1="333.05" y1="97.30" x2="333.05" y2="98.70" stroke="#000" stroke-width="0.7" />
<line x1="334.52" y1="97.30" x2="334.52" y2="98.70" stroke="#000" stroke-width="0.7" />
<line x1="335.73" y1="97.30" x2="335.73" y2="98.70" stroke="#000" stroke-width="0.7" />
<line x1="336.75" y1="97.30" x2="336.75" y2="98.70" stroke="#000" stroke-width="0.7" />
<line x1="337.63" y1="97.30" x2="337.63" y2="98.70" stroke="#000" stroke-width="0.7" />
<line x1="338.40" y1="97.30" x2="338.40" y2="98.70" stroke="#000" stroke-width="0.7" />
<line x1="339.10" y1="97.30" x2="339.10" y2="100.10" stroke="#000" stroke-width="1.0" />
<line x1="343.68" y1="97.30" x2="343.68" y2="98.70" stroke="#000" stroke-width="0.7" />
<line x1="346.35" y1="97.30" x2="346.35" y2="98.70" stroke="#000" stroke-width="0.7" />
<line x1="348.25" y1="97.30" x2="348.25" y2="98.70" stroke="#000" stroke-width="0.7" />
<line x1="349.72" y1="97.30" x2="349.72" y2="98.70" stroke="#000" stroke-width="0.7" />
<line x1="350.93" y1="97.30" x2="350.93" y2="98.70" stroke="#000" stroke-width="0.7" />
<line x1="351.95" y1="97.30" x2="351.95" y2="98.70" stroke="#000" stroke-width="0.7" />
<line x1="352.83" y1="97.30" x2="352.83" y2="98.70" stroke="#000" stroke-width="0.7" />
<line x1="353.60" y1="97.30" x2="353.60" y2="98.70" stroke="#000" stroke-width="0.7" />
<line x1="354.30" y1="97.30" x2="354.30" y2="100.10" stroke="#000" stroke-width="1.0" />
<line x1="358.88" y1="97.30" x2="358.88" y2="98.70" stroke="#000" stroke-width="0.7" />
<line x1="361.55" y1="97.30" x2="361.55" y2="98.70" stroke="#000" stroke-width="0.7" />
<line x1="363.45" y1="97.30" x2="363.45" y2="98.70" stroke="#000" stroke-width="0.7" />
<line x1="364.92" y1="97.30" x2="364.92" y2="98.70" stroke="#000" stroke-width="0.7" />
<line x1="366.13" y1="97.30" x2="366.13" y2="98.70" stroke="#000" stroke-width="0.7" />
<line x1="367.15" y1="97.30" x2="367.15" y2="98.70" stroke="#000" stroke-width="0.7" />
<line x1="368.03" y1="97.30" x2="368.03" y2="98.70" stroke="#000" stroke-width="0.7" />
<line x1="368.80" y1="97.30" x2="368.80" y2="98.70" stroke="#000" stroke-width="0.7" />
<line x1="369.50" y1="97.30" x2="369.50" y2="100.10" stroke="#000" stroke-width="1.0" />
<line x1="374.08" y1="97.30" x2="374.08" y2="98.70" stroke="#000" stroke-width="0.7" />
<line x1="376.75" y1="97.30" x2="376.75" y2="98.70" stroke="#000" stroke-width="0.7" />
<line x1="378.65" y1="97.30" x2="378.65" y2="98.70" stroke="#000" stroke-width="0.7" />
<line x1="380.12" y1="97.30" x2="380.12" y2="98.70" stroke="#000" stroke-width="0.7" />
<line x1="381.33" y1="97.30" x2="381.33" y2="98.70" stroke="#000" stroke-width="0.7" />
<line x1="382.35" y1="97.30" x2="382.35" y2="98.70" stroke="#000" stroke-width="0.7" />
<line x1="383.23" y1="97.30" x2="383.23" y2="98.70" stroke="#000" stroke-width="0.7" />
<line x1="384.00" y1="97.30" x2="384.00" y2="98.70" stroke="#000" stroke-width="0.7" />
<line x1="384.70" y1="97.30" x2="384.70" y2="100.10" stroke="#000" stroke-width="1.0" />
<line x1="389.28" y1="97.30" x2="389.28" y2="98.70" stroke="#000" stroke-width="0.7" />
<line x1="391.95" y1="97.30" x2="391.95" y2="98.70" stroke="#000" stroke-width="0.7" />
<line x1="393.85" y1="97.30" x2="393.85" y2="98.70" stroke="#000" stroke-width="0.7" />
<line x1="395.32" y1="97.30" x2="395.32" y2="98.70" stroke="#000" stroke-width="0.7" />
<line x1="396.53" y1="97.30" x2="396.53" y2="98.70" stroke="#000" stroke-width="0.7" />
<line x1="397.55" y1="97.30" x2="397.55" y2="98.70" stroke="#000" stroke-width="0.7" />
<line x1="398.43" y1="97.30" x2="398.43" y2="98.70" stroke="#000" stroke-width="0.7" />
<line x1="399.20" y1="97.30" x2="399.20" y2="98.70" stroke="#000" stroke-width="0.7" />
<line x1="399.90" y1="97.30" x2="399.90" y2="100.10" stroke="#000" stroke-width="1.0" />
<line x1="404.48" y1="97.30" x2="404.48" y2="98.70" stroke="#000" stroke-width="0.7" />
<text x="338.50" y="110.40" font-size="7.4" text-anchor="middle" fill="#1a1a1a" >10</text>
<text x="342.50" y="107.00" font-size="4.6" text-anchor="start" fill="#1a1a1a" >1</text>
<text x="353.70" y="110.40" font-size="7.4" text-anchor="middle" fill="#1a1a1a" >10</text>
<text x="357.70" y="107.00" font-size="4.6" text-anchor="start" fill="#1a1a1a" >2</text>
<text x="368.90" y="110.40" font-size="7.4" text-anchor="middle" fill="#1a1a1a" >10</text>
<text x="372.90" y="107.00" font-size="4.6" text-anchor="start" fill="#1a1a1a" >3</text>
<text x="384.10" y="110.40" font-size="7.4" text-anchor="middle" fill="#1a1a1a" >10</text>
<text x="388.10" y="107.00" font-size="4.6" text-anchor="start" fill="#1a1a1a" >4</text>
<text x="399.30" y="110.40" font-size="7.4" text-anchor="middle" fill="#1a1a1a" >10</text>
<text x="403.30" y="107.00" font-size="4.6" text-anchor="start" fill="#1a1a1a" >5</text>
<text x="334.90" y="32.00" font-size="7.6" text-anchor="start" fill="#333" >β2</text>
<clipPath id="cp435"><rect x="435.0" y="22.7" width="74.6" height="74.6"/></clipPath>
<g clip-path="url(#cp435)">
<path d="M435.0,96.90 L435.3,96.90 L435.6,96.90 L435.9,96.90 L436.2,96.90 L436.6,96.90 L436.9,96.90 L437.2,96.90 L437.5,96.90 L437.8,96.90 L438.1,96.90 L438.4,96.90 L438.7,96.90 L439.0,96.90 L439.4,96.90 L439.7,96.90 L440.0,96.90 L440.3,96.90 L440.6,96.90 L440.9,96.90 L441.2,96.90 L441.5,96.90 L441.8,96.90 L442.1,96.90 L442.5,96.90 L442.8,96.90 L443.1,96.90 L443.4,96.90 L443.7,96.90 L444.0,96.90 L444.3,96.90 L444.6,96.90 L444.9,96.89 L445.3,96.89 L445.6,96.88 L445.9,96.87 L446.2,96.86 L446.5,96.85 L446.8,96.82 L447.1,96.79 L447.4,96.74 L447.7,96.67 L448.1,96.58 L448.4,96.46 L448.7,96.30 L449.0,96.09 L449.3,95.81 L449.6,95.45 L449.9,95.00 L450.2,94.43 L450.5,93.72 L450.9,92.84 L451.2,91.78 L451.5,90.50 L451.8,88.99 L452.1,87.21 L452.4,85.16 L452.7,82.81 L453.0,80.16 L453.3,77.21 L453.7,73.97 L454.0,70.47 L454.3,66.74 L454.6,62.82 L454.9,58.78 L455.2,54.69 L455.5,50.63 L455.8,46.69 L456.1,42.95 L456.4,39.52 L456.8,36.47 L457.1,33.91 L457.4,31.89 L457.7,30.47 L458.0,29.71 L458.3,29.63 L458.6,30.34 L458.9,31.85 L459.2,34.10 L459.6,37.02 L459.9,40.50 L460.2,44.43 L460.5,48.69 L460.8,53.14 L461.1,57.67 L461.4,62.16 L461.7,66.51 L462.0,70.64 L462.4,74.49 L462.7,78.01 L463.0,81.17 L463.3,83.96 L463.6,86.39 L463.9,88.47 L464.2,90.22 L464.5,91.67 L464.8,92.85 L465.2,93.81 L465.5,94.57 L465.8,95.16 L466.1,95.62 L466.4,95.97 L466.7,96.23 L467.0,96.43 L467.3,96.57 L467.6,96.67 L467.9,96.74 L468.3,96.79 L468.6,96.83 L468.9,96.85 L469.2,96.87 L469.5,96.88 L469.8,96.89 L470.1,96.89 L470.4,96.90 L470.7,96.90 L471.1,96.90 L471.4,96.90 L471.7,96.90 L472.0,96.90 L472.3,96.90 L472.6,96.90 L472.9,96.90 L473.2,96.90 L473.5,96.90 L473.9,96.90 L474.2,96.90 L474.5,96.90 L474.8,96.90 L475.1,96.90 L475.4,96.90 L475.7,96.90 L476.0,96.90 L476.3,96.90 L476.7,96.90 L477.0,96.90 L477.3,96.90 L477.6,96.90 L477.9,96.90 L478.2,96.90 L478.5,96.90 L478.8,96.90 L479.1,96.90 L479.4,96.90 L479.8,96.90 L480.1,96.90 L480.4,96.90 L480.7,96.90 L481.0,96.90 L481.3,96.90 L481.6,96.90 L481.9,96.90 L482.2,96.90 L482.6,96.90 L482.9,96.90 L483.2,96.90 L483.5,96.90 L483.8,96.90 L484.1,96.90 L484.4,96.90 L484.7,96.90 L485.0,96.90 L485.4,96.90 L485.7,96.90 L486.0,96.90 L486.3,96.90 L486.6,96.90 L486.9,96.90 L487.2,96.90 L487.5,96.90 L487.8,96.90 L488.2,96.90 L488.5,96.90 L488.8,96.90 L489.1,96.90 L489.4,96.90 L489.7,96.90 L490.0,96.90 L490.3,96.90 L490.6,96.90 L491.0,96.90 L491.3,96.90 L491.6,96.90 L491.9,96.90 L492.2,96.90 L492.5,96.90 L492.8,96.90 L493.1,96.90 L493.4,96.90 L493.7,96.90 L494.1,96.90 L494.4,96.90 L494.7,96.90 L495.0,96.90 L495.3,96.90 L495.6,96.90 L495.9,96.90 L496.2,96.90 L496.5,96.90 L496.9,96.90 L497.2,96.90 L497.5,96.90 L497.8,96.90 L498.1,96.90 L498.4,96.90 L498.7,96.90 L499.0,96.90 L499.3,96.90 L499.7,96.90 L500.0,96.90 L500.3,96.90 L500.6,96.90 L500.9,96.90 L501.2,96.90 L501.5,96.90 L501.8,96.90 L502.1,96.90 L502.5,96.90 L502.8,96.90 L503.1,96.90 L503.4,96.90 L503.7,96.90 L504.0,96.90 L504.3,96.90 L504.6,96.90 L504.9,96.90 L505.2,96.90 L505.6,96.90 L505.9,96.90 L506.2,96.90 L506.5,96.90 L506.8,96.90 L507.1,96.90 L507.4,96.90 L507.7,96.90 L508.0,96.90 L508.4,96.90 L508.7,96.90 L509.0,96.90 L509.3,96.90 L509.6,96.90 L509.6,98.9 L435.0,98.9 Z" fill="#dde9d0" stroke="none"/>
<path d="M435.0,96.90 L435.3,96.90 L435.6,96.90 L435.9,96.90 L436.2,96.90 L436.6,96.90 L436.9,96.90 L437.2,96.90 L437.5,96.90 L437.8,96.90 L438.1,96.90 L438.4,96.90 L438.7,96.90 L439.0,96.90 L439.4,96.90 L439.7,96.90 L440.0,96.90 L440.3,96.90 L440.6,96.90 L440.9,96.90 L441.2,96.90 L441.5,96.90 L441.8,96.90 L442.1,96.90 L442.5,96.90 L442.8,96.90 L443.1,96.90 L443.4,96.90 L443.7,96.90 L444.0,96.90 L444.3,96.90 L444.6,96.90 L444.9,96.89 L445.3,96.89 L445.6,96.88 L445.9,96.87 L446.2,96.86 L446.5,96.85 L446.8,96.82 L447.1,96.79 L447.4,96.74 L447.7,96.67 L448.1,96.58 L448.4,96.46 L448.7,96.30 L449.0,96.09 L449.3,95.81 L449.6,95.45 L449.9,95.00 L450.2,94.43 L450.5,93.72 L450.9,92.84 L451.2,91.78 L451.5,90.50 L451.8,88.99 L452.1,87.21 L452.4,85.16 L452.7,82.81 L453.0,80.16 L453.3,77.21 L453.7,73.97 L454.0,70.47 L454.3,66.74 L454.6,62.82 L454.9,58.78 L455.2,54.69 L455.5,50.63 L455.8,46.69 L456.1,42.95 L456.4,39.52 L456.8,36.47 L457.1,33.91 L457.4,31.89 L457.7,30.47 L458.0,29.71 L458.3,29.63 L458.6,30.34 L458.9,31.85 L459.2,34.10 L459.6,37.02 L459.9,40.50 L460.2,44.43 L460.5,48.69 L460.8,53.14 L461.1,57.67 L461.4,62.16 L461.7,66.51 L462.0,70.64 L462.4,74.49 L462.7,78.01 L463.0,81.17 L463.3,83.96 L463.6,86.39 L463.9,88.47 L464.2,90.22 L464.5,91.67 L464.8,92.85 L465.2,93.81 L465.5,94.57 L465.8,95.16 L466.1,95.62 L466.4,95.97 L466.7,96.23 L467.0,96.43 L467.3,96.57 L467.6,96.67 L467.9,96.74 L468.3,96.79 L468.6,96.83 L468.9,96.85 L469.2,96.87 L469.5,96.88 L469.8,96.89 L470.1,96.89 L470.4,96.90 L470.7,96.90 L471.1,96.90 L471.4,96.90 L471.7,96.90 L472.0,96.90 L472.3,96.90 L472.6,96.90 L472.9,96.90 L473.2,96.90 L473.5,96.90 L473.9,96.90 L474.2,96.90 L474.5,96.90 L474.8,96.90 L475.1,96.90 L475.4,96.90 L475.7,96.90 L476.0,96.90 L476.3,96.90 L476.7,96.90 L477.0,96.90 L477.3,96.90 L477.6,96.90 L477.9,96.90 L478.2,96.90 L478.5,96.90 L478.8,96.90 L479.1,96.90 L479.4,96.90 L479.8,96.90 L480.1,96.90 L480.4,96.90 L480.7,96.90 L481.0,96.90 L481.3,96.90 L481.6,96.90 L481.9,96.90 L482.2,96.90 L482.6,96.90 L482.9,96.90 L483.2,96.90 L483.5,96.90 L483.8,96.90 L484.1,96.90 L484.4,96.90 L484.7,96.90 L485.0,96.90 L485.4,96.90 L485.7,96.90 L486.0,96.90 L486.3,96.90 L486.6,96.90 L486.9,96.90 L487.2,96.90 L487.5,96.90 L487.8,96.90 L488.2,96.90 L488.5,96.90 L488.8,96.90 L489.1,96.90 L489.4,96.90 L489.7,96.90 L490.0,96.90 L490.3,96.90 L490.6,96.90 L491.0,96.90 L491.3,96.90 L491.6,96.90 L491.9,96.90 L492.2,96.90 L492.5,96.90 L492.8,96.90 L493.1,96.90 L493.4,96.90 L493.7,96.90 L494.1,96.90 L494.4,96.90 L494.7,96.90 L495.0,96.90 L495.3,96.90 L495.6,96.90 L495.9,96.90 L496.2,96.90 L496.5,96.90 L496.9,96.90 L497.2,96.90 L497.5,96.90 L497.8,96.90 L498.1,96.90 L498.4,96.90 L498.7,96.90 L499.0,96.90 L499.3,96.90 L499.7,96.90 L500.0,96.90 L500.3,96.90 L500.6,96.90 L500.9,96.90 L501.2,96.90 L501.5,96.90 L501.8,96.90 L502.1,96.90 L502.5,96.90 L502.8,96.90 L503.1,96.90 L503.4,96.90 L503.7,96.90 L504.0,96.90 L504.3,96.90 L504.6,96.90 L504.9,96.90 L505.2,96.90 L505.6,96.90 L505.9,96.90 L506.2,96.90 L506.5,96.90 L506.8,96.90 L507.1,96.90 L507.4,96.90 L507.7,96.90 L508.0,96.90 L508.4,96.90 L508.7,96.90 L509.0,96.90 L509.3,96.90 L509.6,96.90" fill="none" stroke="#8cc46a" stroke-width="0.9"/>
<path d="M435.0,96.90 L435.3,96.90 L435.6,96.90 L435.9,96.90 L436.2,96.90 L436.6,96.90 L436.9,96.90 L437.2,96.90 L437.5,96.90 L437.8,96.90 L438.1,96.90 L438.4,96.90 L438.7,96.90 L439.0,96.90 L439.4,96.90 L439.7,96.90 L440.0,96.90 L440.3,96.90 L440.6,96.90 L440.9,96.90 L441.2,96.90 L441.5,96.90 L441.8,96.90 L442.1,96.90 L442.5,96.90 L442.8,96.90 L443.1,96.90 L443.4,96.90 L443.7,96.90 L444.0,96.90 L444.3,96.90 L444.6,96.90 L444.9,96.90 L445.3,96.90 L445.6,96.90 L445.9,96.89 L446.2,96.89 L446.5,96.88 L446.8,96.88 L447.1,96.86 L447.4,96.84 L447.7,96.81 L448.1,96.75 L448.4,96.68 L448.7,96.58 L449.0,96.43 L449.3,96.22 L449.6,95.95 L449.9,95.59 L450.2,95.14 L450.5,94.57 L450.9,93.87 L451.2,93.05 L451.5,92.11 L451.8,91.04 L452.1,89.87 L452.4,88.62 L452.7,87.30 L453.0,85.95 L453.3,84.58 L453.7,83.21 L454.0,81.84 L454.3,80.46 L454.6,79.06 L454.9,77.61 L455.2,76.06 L455.5,74.39 L455.8,72.55 L456.1,70.51 L456.4,68.26 L456.8,65.78 L457.1,63.08 L457.4,60.19 L457.7,57.15 L458.0,54.01 L458.3,50.83 L458.6,47.68 L458.9,44.63 L459.2,41.76 L459.6,39.14 L459.9,36.83 L460.2,34.89 L460.5,33.38 L460.8,32.33 L461.1,31.77 L461.4,31.70 L461.7,31.96 L462.0,32.49 L462.4,33.30 L462.7,34.38 L463.0,35.70 L463.3,37.26 L463.6,39.03 L463.9,40.99 L464.2,43.12 L464.5,45.40 L464.8,47.79 L465.2,50.28 L465.5,52.84 L465.8,55.43 L466.1,58.05 L466.4,60.66 L466.7,63.24 L467.0,65.77 L467.3,68.24 L467.6,70.63 L467.9,72.92 L468.3,75.11 L468.6,77.19 L468.9,79.14 L469.2,80.97 L469.5,82.68 L469.8,84.26 L470.1,85.71 L470.4,87.04 L470.7,88.25 L471.1,89.34 L471.4,90.32 L471.7,91.20 L472.0,91.99 L472.3,92.68 L472.6,93.30 L472.9,93.83 L473.2,94.30 L473.5,94.71 L473.9,95.06 L474.2,95.36 L474.5,95.62 L474.8,95.84 L475.1,96.02 L475.4,96.18 L475.7,96.31 L476.0,96.42 L476.3,96.51 L476.7,96.59 L477.0,96.65 L477.3,96.70 L477.6,96.74 L477.9,96.77 L478.2,96.80 L478.5,96.82 L478.8,96.84 L479.1,96.85 L479.4,96.86 L479.8,96.87 L480.1,96.88 L480.4,96.88 L480.7,96.89 L481.0,96.89 L481.3,96.89 L481.6,96.89 L481.9,96.90 L482.2,96.90 L482.6,96.90 L482.9,96.90 L483.2,96.90 L483.5,96.90 L483.8,96.90 L484.1,96.90 L484.4,96.90 L484.7,96.90 L485.0,96.90 L485.4,96.90 L485.7,96.90 L486.0,96.90 L486.3,96.90 L486.6,96.90 L486.9,96.90 L487.2,96.90 L487.5,96.90 L487.8,96.90 L488.2,96.90 L488.5,96.90 L488.8,96.90 L489.1,96.90 L489.4,96.90 L489.7,96.90 L490.0,96.90 L490.3,96.90 L490.6,96.90 L491.0,96.90 L491.3,96.90 L491.6,96.90 L491.9,96.90 L492.2,96.90 L492.5,96.90 L492.8,96.90 L493.1,96.90 L493.4,96.90 L493.7,96.90 L494.1,96.90 L494.4,96.90 L494.7,96.90 L495.0,96.90 L495.3,96.90 L495.6,96.90 L495.9,96.90 L496.2,96.90 L496.5,96.90 L496.9,96.90 L497.2,96.90 L497.5,96.90 L497.8,96.90 L498.1,96.90 L498.4,96.90 L498.7,96.90 L499.0,96.90 L499.3,96.90 L499.7,96.90 L500.0,96.90 L500.3,96.90 L500.6,96.90 L500.9,96.90 L501.2,96.90 L501.5,96.90 L501.8,96.90 L502.1,96.90 L502.5,96.90 L502.8,96.90 L503.1,96.90 L503.4,96.90 L503.7,96.90 L504.0,96.90 L504.3,96.90 L504.6,96.90 L504.9,96.90 L505.2,96.90 L505.6,96.90 L505.9,96.90 L506.2,96.90 L506.5,96.90 L506.8,96.90 L507.1,96.90 L507.4,96.90 L507.7,96.90 L508.0,96.90 L508.4,96.90 L508.7,96.90 L509.0,96.90 L509.3,96.90 L509.6,96.90" fill="none" stroke="#bf2f58" stroke-width="0.85"/>
<path d="M435.0,96.90 L435.3,96.90 L435.6,96.90 L435.9,96.90 L436.2,96.90 L436.6,96.90 L436.9,96.90 L437.2,96.90 L437.5,96.90 L437.8,96.90 L438.1,96.90 L438.4,96.90 L438.7,96.90 L439.0,96.90 L439.4,96.90 L439.7,96.90 L440.0,96.90 L440.3,96.90 L440.6,96.90 L440.9,96.90 L441.2,96.90 L441.5,96.90 L441.8,96.90 L442.1,96.90 L442.5,96.90 L442.8,96.90 L443.1,96.90 L443.4,96.90 L443.7,96.90 L444.0,96.90 L444.3,96.90 L444.6,96.90 L444.9,96.90 L445.3,96.90 L445.6,96.89 L445.9,96.89 L446.2,96.89 L446.5,96.88 L446.8,96.87 L447.1,96.85 L447.4,96.83 L447.7,96.79 L448.1,96.73 L448.4,96.65 L448.7,96.54 L449.0,96.38 L449.3,96.16 L449.6,95.86 L449.9,95.48 L450.2,94.99 L450.5,94.38 L450.9,93.64 L451.2,92.76 L451.5,91.74 L451.8,90.59 L452.1,89.32 L452.4,87.95 L452.7,86.51 L453.0,85.01 L453.3,83.48 L453.7,81.92 L454.0,80.36 L454.3,78.77 L454.6,77.15 L454.9,75.47 L455.2,73.69 L455.5,71.79 L455.8,69.73 L456.1,67.48 L456.4,65.04 L456.8,62.40 L457.1,59.58 L457.4,56.61 L457.7,53.53 L458.0,50.41 L458.3,47.31 L458.6,44.29 L458.9,41.44 L459.2,38.83 L459.6,36.52 L459.9,34.58 L460.2,33.05 L460.5,31.99 L460.8,31.42 L461.1,31.34 L461.4,31.59 L461.7,32.12 L462.0,32.93 L462.4,34.00 L462.7,35.32 L463.0,36.88 L463.3,38.65 L463.6,40.62 L463.9,42.75 L464.2,45.04 L464.5,47.44 L464.8,49.94 L465.2,52.51 L465.5,55.12 L465.8,57.75 L466.1,60.37 L466.4,62.97 L466.7,65.51 L467.0,68.00 L467.3,70.40 L467.6,72.71 L467.9,74.92 L468.3,77.01 L468.6,78.98 L468.9,80.83 L469.2,82.54 L469.5,84.13 L469.8,85.60 L470.1,86.94 L470.4,88.16 L470.7,89.26 L471.1,90.26 L471.4,91.14 L471.7,91.94 L472.0,92.64 L472.3,93.26 L472.6,93.80 L472.9,94.27 L473.2,94.68 L473.5,95.04 L473.9,95.34 L474.2,95.60 L474.5,95.82 L474.8,96.01 L475.1,96.17 L475.4,96.30 L475.7,96.41 L476.0,96.51 L476.3,96.58 L476.7,96.64 L477.0,96.69 L477.3,96.74 L477.6,96.77 L477.9,96.80 L478.2,96.82 L478.5,96.84 L478.8,96.85 L479.1,96.86 L479.4,96.87 L479.8,96.88 L480.1,96.88 L480.4,96.89 L480.7,96.89 L481.0,96.89 L481.3,96.89 L481.6,96.90 L481.9,96.90 L482.2,96.90 L482.6,96.90 L482.9,96.90 L483.2,96.90 L483.5,96.90 L483.8,96.90 L484.1,96.90 L484.4,96.90 L484.7,96.90 L485.0,96.90 L485.4,96.90 L485.7,96.90 L486.0,96.90 L486.3,96.90 L486.6,96.90 L486.9,96.90 L487.2,96.90 L487.5,96.90 L487.8,96.90 L488.2,96.90 L488.5,96.90 L488.8,96.90 L489.1,96.90 L489.4,96.90 L489.7,96.90 L490.0,96.90 L490.3,96.90 L490.6,96.90 L491.0,96.90 L491.3,96.90 L491.6,96.90 L491.9,96.90 L492.2,96.90 L492.5,96.90 L492.8,96.90 L493.1,96.90 L493.4,96.90 L493.7,96.90 L494.1,96.90 L494.4,96.90 L494.7,96.90 L495.0,96.90 L495.3,96.90 L495.6,96.90 L495.9,96.90 L496.2,96.90 L496.5,96.90 L496.9,96.90 L497.2,96.90 L497.5,96.90 L497.8,96.90 L498.1,96.90 L498.4,96.90 L498.7,96.90 L499.0,96.90 L499.3,96.90 L499.7,96.90 L500.0,96.90 L500.3,96.90 L500.6,96.90 L500.9,96.90 L501.2,96.90 L501.5,96.90 L501.8,96.90 L502.1,96.90 L502.5,96.90 L502.8,96.90 L503.1,96.90 L503.4,96.90 L503.7,96.90 L504.0,96.90 L504.3,96.90 L504.6,96.90 L504.9,96.90 L505.2,96.90 L505.6,96.90 L505.9,96.90 L506.2,96.90 L506.5,96.90 L506.8,96.90 L507.1,96.90 L507.4,96.90 L507.7,96.90 L508.0,96.90 L508.4,96.90 L508.7,96.90 L509.0,96.90 L509.3,96.90 L509.6,96.90" fill="none" stroke="#3a3f8e" stroke-width="0.8" stroke-opacity="0.28"/>
</g>
<rect x="435.0" y="22.7" width="74.6" height="74.6" fill="none" stroke="#000" stroke-width="1.5"/>
<line x1="431.80" y1="96.90" x2="435.00" y2="96.90" stroke="#000" stroke-width="1.1" />
<line x1="433.60" y1="94.08" x2="435.00" y2="94.08" stroke="#000" stroke-width="0.8" />
<line x1="433.60" y1="91.26" x2="435.00" y2="91.26" stroke="#000" stroke-width="0.8" />
<line x1="433.60" y1="88.44" x2="435.00" y2="88.44" stroke="#000" stroke-width="0.8" />
<line x1="433.60" y1="85.62" x2="435.00" y2="85.62" stroke="#000" stroke-width="0.8" />
<line x1="431.80" y1="82.80" x2="435.00" y2="82.80" stroke="#000" stroke-width="1.1" />
<line x1="433.60" y1="79.98" x2="435.00" y2="79.98" stroke="#000" stroke-width="0.8" />
<line x1="433.60" y1="77.16" x2="435.00" y2="77.16" stroke="#000" stroke-width="0.8" />
<line x1="433.60" y1="74.34" x2="435.00" y2="74.34" stroke="#000" stroke-width="0.8" />
<line x1="433.60" y1="71.52" x2="435.00" y2="71.52" stroke="#000" stroke-width="0.8" />
<line x1="431.80" y1="68.70" x2="435.00" y2="68.70" stroke="#000" stroke-width="1.1" />
<line x1="433.60" y1="65.88" x2="435.00" y2="65.88" stroke="#000" stroke-width="0.8" />
<line x1="433.60" y1="63.06" x2="435.00" y2="63.06" stroke="#000" stroke-width="0.8" />
<line x1="433.60" y1="60.24" x2="435.00" y2="60.24" stroke="#000" stroke-width="0.8" />
<line x1="433.60" y1="57.42" x2="435.00" y2="57.42" stroke="#000" stroke-width="0.8" />
<line x1="431.80" y1="54.60" x2="435.00" y2="54.60" stroke="#000" stroke-width="1.1" />
<line x1="433.60" y1="51.78" x2="435.00" y2="51.78" stroke="#000" stroke-width="0.8" />
<line x1="433.60" y1="48.96" x2="435.00" y2="48.96" stroke="#000" stroke-width="0.8" />
<line x1="433.60" y1="46.14" x2="435.00" y2="46.14" stroke="#000" stroke-width="0.8" />
<line x1="433.60" y1="43.32" x2="435.00" y2="43.32" stroke="#000" stroke-width="0.8" />
<line x1="431.80" y1="40.50" x2="435.00" y2="40.50" stroke="#000" stroke-width="1.1" />
<line x1="433.60" y1="37.68" x2="435.00" y2="37.68" stroke="#000" stroke-width="0.8" />
<line x1="433.60" y1="34.86" x2="435.00" y2="34.86" stroke="#000" stroke-width="0.8" />
<line x1="433.60" y1="32.04" x2="435.00" y2="32.04" stroke="#000" stroke-width="0.8" />
<line x1="433.60" y1="29.22" x2="435.00" y2="29.22" stroke="#000" stroke-width="0.8" />
<line x1="431.80" y1="26.40" x2="435.00" y2="26.40" stroke="#000" stroke-width="1.1" />
<text x="429.00" y="99.20" font-size="7.4" text-anchor="end" fill="#1a1a1a" >0</text>
<text x="429.00" y="85.10" font-size="7.4" text-anchor="end" fill="#1a1a1a" >20</text>
<text x="429.00" y="71.00" font-size="7.4" text-anchor="end" fill="#1a1a1a" >40</text>
<text x="429.00" y="56.90" font-size="7.4" text-anchor="end" fill="#1a1a1a" >60</text>
<text x="429.00" y="42.80" font-size="7.4" text-anchor="end" fill="#1a1a1a" >80</text>
<text x="429.00" y="28.70" font-size="7.4" text-anchor="end" fill="#1a1a1a" >100</text>
<line x1="436.25" y1="97.30" x2="436.25" y2="98.70" stroke="#000" stroke-width="0.7" />
<line x1="437.72" y1="97.30" x2="437.72" y2="98.70" stroke="#000" stroke-width="0.7" />
<line x1="438.93" y1="97.30" x2="438.93" y2="98.70" stroke="#000" stroke-width="0.7" />
<line x1="439.95" y1="97.30" x2="439.95" y2="98.70" stroke="#000" stroke-width="0.7" />
<line x1="440.83" y1="97.30" x2="440.83" y2="98.70" stroke="#000" stroke-width="0.7" />
<line x1="441.60" y1="97.30" x2="441.60" y2="98.70" stroke="#000" stroke-width="0.7" />
<line x1="442.30" y1="97.30" x2="442.30" y2="100.10" stroke="#000" stroke-width="1.0" />
<line x1="446.88" y1="97.30" x2="446.88" y2="98.70" stroke="#000" stroke-width="0.7" />
<line x1="449.55" y1="97.30" x2="449.55" y2="98.70" stroke="#000" stroke-width="0.7" />
<line x1="451.45" y1="97.30" x2="451.45" y2="98.70" stroke="#000" stroke-width="0.7" />
<line x1="452.92" y1="97.30" x2="452.92" y2="98.70" stroke="#000" stroke-width="0.7" />
<line x1="454.13" y1="97.30" x2="454.13" y2="98.70" stroke="#000" stroke-width="0.7" />
<line x1="455.15" y1="97.30" x2="455.15" y2="98.70" stroke="#000" stroke-width="0.7" />
<line x1="456.03" y1="97.30" x2="456.03" y2="98.70" stroke="#000" stroke-width="0.7" />
<line x1="456.80" y1="97.30" x2="456.80" y2="98.70" stroke="#000" stroke-width="0.7" />
<line x1="457.50" y1="97.30" x2="457.50" y2="100.10" stroke="#000" stroke-width="1.0" />
<line x1="462.08" y1="97.30" x2="462.08" y2="98.70" stroke="#000" stroke-width="0.7" />
<line x1="464.75" y1="97.30" x2="464.75" y2="98.70" stroke="#000" stroke-width="0.7" />
<line x1="466.65" y1="97.30" x2="466.65" y2="98.70" stroke="#000" stroke-width="0.7" />
<line x1="468.12" y1="97.30" x2="468.12" y2="98.70" stroke="#000" stroke-width="0.7" />
<line x1="469.33" y1="97.30" x2="469.33" y2="98.70" stroke="#000" stroke-width="0.7" />
<line x1="470.35" y1="97.30" x2="470.35" y2="98.70" stroke="#000" stroke-width="0.7" />
<line x1="471.23" y1="97.30" x2="471.23" y2="98.70" stroke="#000" stroke-width="0.7" />
<line x1="472.00" y1="97.30" x2="472.00" y2="98.70" stroke="#000" stroke-width="0.7" />
<line x1="472.70" y1="97.30" x2="472.70" y2="100.10" stroke="#000" stroke-width="1.0" />
<line x1="477.28" y1="97.30" x2="477.28" y2="98.70" stroke="#000" stroke-width="0.7" />
<line x1="479.95" y1="97.30" x2="479.95" y2="98.70" stroke="#000" stroke-width="0.7" />
<line x1="481.85" y1="97.30" x2="481.85" y2="98.70" stroke="#000" stroke-width="0.7" />
<line x1="483.32" y1="97.30" x2="483.32" y2="98.70" stroke="#000" stroke-width="0.7" />
<line x1="484.53" y1="97.30" x2="484.53" y2="98.70" stroke="#000" stroke-width="0.7" />
<line x1="485.55" y1="97.30" x2="485.55" y2="98.70" stroke="#000" stroke-width="0.7" />
<line x1="486.43" y1="97.30" x2="486.43" y2="98.70" stroke="#000" stroke-width="0.7" />
<line x1="487.20" y1="97.30" x2="487.20" y2="98.70" stroke="#000" stroke-width="0.7" />
<line x1="487.90" y1="97.30" x2="487.90" y2="100.10" stroke="#000" stroke-width="1.0" />
<line x1="492.48" y1="97.30" x2="492.48" y2="98.70" stroke="#000" stroke-width="0.7" />
<line x1="495.15" y1="97.30" x2="495.15" y2="98.70" stroke="#000" stroke-width="0.7" />
<line x1="497.05" y1="97.30" x2="497.05" y2="98.70" stroke="#000" stroke-width="0.7" />
<line x1="498.52" y1="97.30" x2="498.52" y2="98.70" stroke="#000" stroke-width="0.7" />
<line x1="499.73" y1="97.30" x2="499.73" y2="98.70" stroke="#000" stroke-width="0.7" />
<line x1="500.75" y1="97.30" x2="500.75" y2="98.70" stroke="#000" stroke-width="0.7" />
<line x1="501.63" y1="97.30" x2="501.63" y2="98.70" stroke="#000" stroke-width="0.7" />
<line x1="502.40" y1="97.30" x2="502.40" y2="98.70" stroke="#000" stroke-width="0.7" />
<line x1="503.10" y1="97.30" x2="503.10" y2="100.10" stroke="#000" stroke-width="1.0" />
<line x1="507.68" y1="97.30" x2="507.68" y2="98.70" stroke="#000" stroke-width="0.7" />
<text x="441.70" y="110.40" font-size="7.4" text-anchor="middle" fill="#1a1a1a" >10</text>
<text x="445.70" y="107.00" font-size="4.6" text-anchor="start" fill="#1a1a1a" >1</text>
<text x="456.90" y="110.40" font-size="7.4" text-anchor="middle" fill="#1a1a1a" >10</text>
<text x="460.90" y="107.00" font-size="4.6" text-anchor="start" fill="#1a1a1a" >2</text>
<text x="472.10" y="110.40" font-size="7.4" text-anchor="middle" fill="#1a1a1a" >10</text>
<text x="476.10" y="107.00" font-size="4.6" text-anchor="start" fill="#1a1a1a" >3</text>
<text x="487.30" y="110.40" font-size="7.4" text-anchor="middle" fill="#1a1a1a" >10</text>
<text x="491.30" y="107.00" font-size="4.6" text-anchor="start" fill="#1a1a1a" >4</text>
<text x="502.50" y="110.40" font-size="7.4" text-anchor="middle" fill="#1a1a1a" >10</text>
<text x="506.50" y="107.00" font-size="4.6" text-anchor="start" fill="#1a1a1a" >5</text>
<text x="438.10" y="32.00" font-size="7.6" text-anchor="start" fill="#333" >β3</text>
<path d="M205.4,100.5 L205.4,26" stroke="#000" stroke-width="1.3" fill="none"/>
<path d="M205.4,22 L202.3,29.6 L208.5,29.6 Z" fill="#000"/>
<text x="0" y="0" font-size="10.0" text-anchor="middle" fill="#1a1a1a" transform="translate(201.20,61.60) rotate(-90)" textLength="25.20" lengthAdjust="spacingAndGlyphs">Count</text>
<path d="M218.3,115.3 L509,115.3" stroke="#000" stroke-width="1.3" fill="none"/>
<path d="M513.2,115.3 L505.6,112.2 L505.6,118.4 Z" fill="#000"/>
<text x="474.20" y="125.80" font-size="8.0" text-anchor="start" fill="#1a1a1a" textLength="30.10" lengthAdjust="spacingAndGlyphs" >Intensity</text>
<line x1="217.80" y1="134.80" x2="230.90" y2="134.80" stroke="#9fce84" stroke-width="2.0" />
<text x="234.00" y="137.60" font-size="8.0" text-anchor="start" fill="#1a1a1a" textLength="50.60" lengthAdjust="spacingAndGlyphs" >Isotype control</text>
<line x1="302.50" y1="134.70" x2="314.50" y2="134.70" stroke="#d98aa0" stroke-width="1.4" />
<text x="318.00" y="137.60" font-size="8.0" text-anchor="start" fill="#1a1a1a" textLength="11.20" lengthAdjust="spacingAndGlyphs" >WT</text>
<line x1="342.30" y1="134.70" x2="354.10" y2="134.70" stroke="#a0b2d4" stroke-width="1.4" />
<text x="357.00" y="137.60" font-size="8.0" text-anchor="start" fill="#1a1a1a" textLength="14.60" lengthAdjust="spacingAndGlyphs" >Tln1</text>
<text x="372.50" y="135.30" font-size="5.2" text-anchor="start" fill="#1a1a1a" textLength="13.20" lengthAdjust="spacingAndGlyphs" >3mut</text>
<rect x="58.60" y="196.72" width="9.00" height="70.58" fill="#a5002c" />
<line x1="63.10" y1="193.34" x2="63.10" y2="201.43" stroke="#000" stroke-width="0.9" />
<line x1="61.20" y1="193.34" x2="65.00" y2="193.34" stroke="#000" stroke-width="1.0" />
<line x1="61.20" y1="201.43" x2="65.00" y2="201.43" stroke="#000" stroke-width="1.0" />
<rect x="74.75" y="195.59" width="8.20" height="71.71" fill="#2d4b82" stroke="#1f3b6e" stroke-width="0.7"/>
<line x1="78.85" y1="189.27" x2="78.85" y2="202.62" stroke="#000" stroke-width="0.9" />
<line x1="76.95" y1="189.27" x2="80.75" y2="189.27" stroke="#000" stroke-width="1.0" />
<line x1="76.95" y1="202.62" x2="80.75" y2="202.62" stroke="#000" stroke-width="1.0" />
<path d="M52.90,186.70 L52.90,267.30 L88.20,267.30" fill="none" stroke="#000" stroke-width="1.2"/>
<line x1="50.30" y1="267.30" x2="52.90" y2="267.30" stroke="#000" stroke-width="1.0" />
<text x="46.80" y="270.00" font-size="7.5" text-anchor="end" fill="#1a1a1a" >0</text>
<line x1="50.30" y1="253.24" x2="52.90" y2="253.24" stroke="#000" stroke-width="1.0" />
<text x="46.80" y="255.94" font-size="7.5" text-anchor="end" fill="#1a1a1a" >20</text>
<line x1="50.30" y1="239.18" x2="52.90" y2="239.18" stroke="#000" stroke-width="1.0" />
<text x="46.80" y="241.88" font-size="7.5" text-anchor="end" fill="#1a1a1a" >40</text>
<line x1="50.30" y1="225.12" x2="52.90" y2="225.12" stroke="#000" stroke-width="1.0" />
<text x="46.80" y="227.82" font-size="7.5" text-anchor="end" fill="#1a1a1a" >60</text>
<line x1="50.30" y1="211.06" x2="52.90" y2="211.06" stroke="#000" stroke-width="1.0" />
<text x="46.80" y="213.76" font-size="7.5" text-anchor="end" fill="#1a1a1a" >80</text>
<line x1="50.30" y1="197.00" x2="52.90" y2="197.00" stroke="#000" stroke-width="1.0" />
<text x="46.80" y="199.70" font-size="7.5" text-anchor="end" fill="#1a1a1a" >100</text>
<text x="47.10" y="181.00" font-size="9.4" text-anchor="start" fill="#1a1a1a" textLength="46.50" lengthAdjust="spacingAndGlyphs" >Fibronectin</text>
<text x="0" y="0" font-size="9.1" text-anchor="middle" fill="#1a1a1a" transform="translate(28.30,226.80) rotate(-90)" textLength="72.00" lengthAdjust="spacingAndGlyphs">Relative adhesion</text>
<text x="0" y="0" font-size="8.0" text-anchor="end" fill="#1a1a1a" transform="translate(69.90,274.70) rotate(-45)">WT</text>
<text x="0" y="0" font-size="8.0" fill="#1a1a1a" transform="translate(65.10,294.90) rotate(-45)"><tspan textLength="13.6" lengthAdjust="spacingAndGlyphs">Tln1</tspan><tspan font-size="5.4" dx="1.6" dy="-2.8">3mut</tspan></text>
<rect x="136.50" y="197.00" width="8.90" height="70.30" fill="#a5002c" />
<line x1="140.95" y1="192.43" x2="140.95" y2="201.57" stroke="#000" stroke-width="0.9" />
<line x1="139.05" y1="192.43" x2="142.85" y2="192.43" stroke="#000" stroke-width="1.0" />
<line x1="139.05" y1="201.57" x2="142.85" y2="201.57" stroke="#000" stroke-width="1.0" />
<rect x="152.45" y="196.65" width="8.20" height="70.65" fill="#2d4b82" stroke="#1f3b6e" stroke-width="0.7"/>
<line x1="156.55" y1="188.92" x2="156.55" y2="203.68" stroke="#000" stroke-width="0.9" />
<line x1="154.65" y1="188.92" x2="158.45" y2="188.92" stroke="#000" stroke-width="1.0" />
<line x1="154.65" y1="203.68" x2="158.45" y2="203.68" stroke="#000" stroke-width="1.0" />
<path d="M131.30,186.70 L131.30,267.30 L166.60,267.30" fill="none" stroke="#000" stroke-width="1.2"/>
<line x1="128.70" y1="267.30" x2="131.30" y2="267.30" stroke="#000" stroke-width="1.0" />
<text x="125.20" y="270.00" font-size="7.5" text-anchor="end" fill="#1a1a1a" >0</text>
<line x1="128.70" y1="253.24" x2="131.30" y2="253.24" stroke="#000" stroke-width="1.0" />
<text x="125.20" y="255.94" font-size="7.5" text-anchor="end" fill="#1a1a1a" >20</text>
<line x1="128.70" y1="239.18" x2="131.30" y2="239.18" stroke="#000" stroke-width="1.0" />
<text x="125.20" y="241.88" font-size="7.5" text-anchor="end" fill="#1a1a1a" >40</text>
<line x1="128.70" y1="225.12" x2="131.30" y2="225.12" stroke="#000" stroke-width="1.0" />
<text x="125.20" y="227.82" font-size="7.5" text-anchor="end" fill="#1a1a1a" >60</text>
<line x1="128.70" y1="211.06" x2="131.30" y2="211.06" stroke="#000" stroke-width="1.0" />
<text x="125.20" y="213.76" font-size="7.5" text-anchor="end" fill="#1a1a1a" >80</text>
<line x1="128.70" y1="197.00" x2="131.30" y2="197.00" stroke="#000" stroke-width="1.0" />
<text x="125.20" y="199.70" font-size="7.5" text-anchor="end" fill="#1a1a1a" >100</text>
<text x="125.40" y="181.00" font-size="9.4" text-anchor="start" fill="#1a1a1a" textLength="45.50" lengthAdjust="spacingAndGlyphs" >Vitronectin</text>
<text x="0" y="0" font-size="9.1" text-anchor="middle" fill="#1a1a1a" transform="translate(106.70,226.80) rotate(-90)" textLength="72.00" lengthAdjust="spacingAndGlyphs">Relative adhesion</text>
<text x="0" y="0" font-size="8.0" text-anchor="end" fill="#1a1a1a" transform="translate(148.30,274.70) rotate(-45)">WT</text>
<text x="0" y="0" font-size="8.0" fill="#1a1a1a" transform="translate(143.50,294.90) rotate(-45)"><tspan textLength="13.6" lengthAdjust="spacingAndGlyphs">Tln1</tspan><tspan font-size="5.4" dx="1.6" dy="-2.8">3mut</tspan></text>
<rect x="58.50" y="342.40" width="9.00" height="71.00" fill="#a5002c" />
<line x1="63.00" y1="337.90" x2="63.00" y2="347.60" stroke="#000" stroke-width="0.9" />
<line x1="61.10" y1="337.90" x2="64.90" y2="337.90" stroke="#000" stroke-width="1.0" />
<line x1="61.10" y1="347.60" x2="64.90" y2="347.60" stroke="#000" stroke-width="1.0" />
<rect x="74.75" y="343.45" width="8.20" height="69.95" fill="#2d4b82" stroke="#1f3b6e" stroke-width="0.7"/>
<line x1="78.85" y1="333.47" x2="78.85" y2="352.52" stroke="#000" stroke-width="0.9" />
<line x1="76.95" y1="333.47" x2="80.75" y2="333.47" stroke="#000" stroke-width="1.0" />
<line x1="76.95" y1="352.52" x2="80.75" y2="352.52" stroke="#000" stroke-width="1.0" />
<path d="M52.90,332.80 L52.90,413.40 L88.20,413.40" fill="none" stroke="#000" stroke-width="1.2"/>
<line x1="50.30" y1="413.40" x2="52.90" y2="413.40" stroke="#000" stroke-width="1.0" />
<text x="46.80" y="416.10" font-size="7.5" text-anchor="end" fill="#1a1a1a" >0</text>
<line x1="50.30" y1="399.34" x2="52.90" y2="399.34" stroke="#000" stroke-width="1.0" />
<text x="46.80" y="402.04" font-size="7.5" text-anchor="end" fill="#1a1a1a" >20</text>
<line x1="50.30" y1="385.28" x2="52.90" y2="385.28" stroke="#000" stroke-width="1.0" />
<text x="46.80" y="387.98" font-size="7.5" text-anchor="end" fill="#1a1a1a" >40</text>
<line x1="50.30" y1="371.22" x2="52.90" y2="371.22" stroke="#000" stroke-width="1.0" />
<text x="46.80" y="373.92" font-size="7.5" text-anchor="end" fill="#1a1a1a" >60</text>
<line x1="50.30" y1="357.16" x2="52.90" y2="357.16" stroke="#000" stroke-width="1.0" />
<text x="46.80" y="359.86" font-size="7.5" text-anchor="end" fill="#1a1a1a" >80</text>
<line x1="50.30" y1="343.10" x2="52.90" y2="343.10" stroke="#000" stroke-width="1.0" />
<text x="46.80" y="345.80" font-size="7.5" text-anchor="end" fill="#1a1a1a" >100</text>
<text x="55.70" y="327.10" font-size="9.4" text-anchor="start" fill="#1a1a1a" textLength="28.90" lengthAdjust="spacingAndGlyphs" >ICAM-1</text>
<text x="0" y="0" font-size="9.1" text-anchor="middle" fill="#1a1a1a" transform="translate(28.30,372.90) rotate(-90)" textLength="72.00" lengthAdjust="spacingAndGlyphs">Relative adhesion</text>
<text x="0" y="0" font-size="8.0" text-anchor="end" fill="#1a1a1a" transform="translate(69.90,420.80) rotate(-45)">WT</text>
<text x="0" y="0" font-size="8.0" fill="#1a1a1a" transform="translate(65.10,441.00) rotate(-45)"><tspan textLength="13.6" lengthAdjust="spacingAndGlyphs">Tln1</tspan><tspan font-size="5.4" dx="1.6" dy="-2.8">3mut</tspan></text>
<rect x="136.50" y="342.89" width="8.90" height="70.51" fill="#a5002c" />
<line x1="140.95" y1="340.22" x2="140.95" y2="346.40" stroke="#000" stroke-width="0.9" />
<line x1="139.05" y1="340.22" x2="142.85" y2="340.22" stroke="#000" stroke-width="1.0" />
<line x1="139.05" y1="346.40" x2="142.85" y2="346.40" stroke="#000" stroke-width="1.0" />
<rect x="152.45" y="343.45" width="8.20" height="69.95" fill="#2d4b82" stroke="#1f3b6e" stroke-width="0.7"/>
<line x1="156.55" y1="337.69" x2="156.55" y2="348.30" stroke="#000" stroke-width="0.9" />
<line x1="154.65" y1="337.69" x2="158.45" y2="337.69" stroke="#000" stroke-width="1.0" />
<line x1="154.65" y1="348.30" x2="158.45" y2="348.30" stroke="#000" stroke-width="1.0" />
<path d="M131.30,332.80 L131.30,413.40 L166.60,413.40" fill="none" stroke="#000" stroke-width="1.2"/>
<line x1="128.70" y1="413.40" x2="131.30" y2="413.40" stroke="#000" stroke-width="1.0" />
<text x="125.20" y="416.10" font-size="7.5" text-anchor="end" fill="#1a1a1a" >0</text>
<line x1="128.70" y1="399.34" x2="131.30" y2="399.34" stroke="#000" stroke-width="1.0" />
<text x="125.20" y="402.04" font-size="7.5" text-anchor="end" fill="#1a1a1a" >20</text>
<line x1="128.70" y1="385.28" x2="131.30" y2="385.28" stroke="#000" stroke-width="1.0" />
<text x="125.20" y="387.98" font-size="7.5" text-anchor="end" fill="#1a1a1a" >40</text>
<line x1="128.70" y1="371.22" x2="131.30" y2="371.22" stroke="#000" stroke-width="1.0" />
<text x="125.20" y="373.92" font-size="7.5" text-anchor="end" fill="#1a1a1a" >60</text>
<line x1="128.70" y1="357.16" x2="131.30" y2="357.16" stroke="#000" stroke-width="1.0" />
<text x="125.20" y="359.86" font-size="7.5" text-anchor="end" fill="#1a1a1a" >80</text>
<line x1="128.70" y1="343.10" x2="131.30" y2="343.10" stroke="#000" stroke-width="1.0" />
<text x="125.20" y="345.80" font-size="7.5" text-anchor="end" fill="#1a1a1a" >100</text>
<text x="131.60" y="327.10" font-size="9.4" text-anchor="start" fill="#1a1a1a" textLength="32.15" lengthAdjust="spacingAndGlyphs" >VCAM-1</text>
<text x="0" y="0" font-size="9.1" text-anchor="middle" fill="#1a1a1a" transform="translate(106.70,372.90) rotate(-90)" textLength="72.00" lengthAdjust="spacingAndGlyphs">Relative adhesion</text>
<text x="0" y="0" font-size="8.0" text-anchor="end" fill="#1a1a1a" transform="translate(148.30,420.80) rotate(-45)">WT</text>
<text x="0" y="0" font-size="8.0" fill="#1a1a1a" transform="translate(143.50,441.00) rotate(-45)"><tspan textLength="13.6" lengthAdjust="spacingAndGlyphs">Tln1</tspan><tspan font-size="5.4" dx="1.6" dy="-2.8">3mut</tspan></text>
<rect x="241.00" y="354.60" width="9.20" height="58.70" fill="#a5002c" />
<rect x="257.35" y="352.60" width="8.30" height="60.70" fill="#2d4b82" stroke="#1f3b6e" stroke-width="0.7"/>
<line x1="261.50" y1="345.50" x2="261.50" y2="360.18" stroke="#000" stroke-width="0.9" />
<line x1="259.60" y1="345.50" x2="263.40" y2="345.50" stroke="#000" stroke-width="1.0" />
<line x1="259.60" y1="360.18" x2="263.40" y2="360.18" stroke="#000" stroke-width="1.0" />
<path d="M235.70,333.00 L235.70,413.30 L270.40,413.30" fill="none" stroke="#000" stroke-width="1.2"/>
<line x1="233.10" y1="413.30" x2="235.70" y2="413.30" stroke="#000" stroke-width="1.0" />
<text x="229.60" y="416.00" font-size="7.5" text-anchor="end" fill="#1a1a1a" >0</text>
<line x1="233.10" y1="401.56" x2="235.70" y2="401.56" stroke="#000" stroke-width="1.0" />
<text x="229.60" y="404.26" font-size="7.5" text-anchor="end" fill="#1a1a1a" >0.2</text>
<line x1="233.10" y1="389.82" x2="235.70" y2="389.82" stroke="#000" stroke-width="1.0" />
<text x="229.60" y="392.52" font-size="7.5" text-anchor="end" fill="#1a1a1a" >0.4</text>
<line x1="233.10" y1="378.08" x2="235.70" y2="378.08" stroke="#000" stroke-width="1.0" />
<text x="229.60" y="380.78" font-size="7.5" text-anchor="end" fill="#1a1a1a" >0.6</text>
<line x1="233.10" y1="366.34" x2="235.70" y2="366.34" stroke="#000" stroke-width="1.0" />
<text x="229.60" y="369.04" font-size="7.5" text-anchor="end" fill="#1a1a1a" >0.8</text>
<line x1="233.10" y1="354.60" x2="235.70" y2="354.60" stroke="#000" stroke-width="1.0" />
<text x="229.60" y="357.30" font-size="7.5" text-anchor="end" fill="#1a1a1a" >1.0</text>
<line x1="233.10" y1="342.86" x2="235.70" y2="342.86" stroke="#000" stroke-width="1.0" />
<text x="229.60" y="345.56" font-size="7.5" text-anchor="end" fill="#1a1a1a" >1.2</text>
<text x="0" y="0" font-size="9.0" text-anchor="middle" fill="#1a1a1a" transform="translate(212.30,372.50) rotate(-90)" textLength="80.00" lengthAdjust="spacingAndGlyphs">Relative β1 intensity</text>
<text x="0" y="0" font-size="8.0" text-anchor="end" fill="#1a1a1a" transform="translate(252.70,420.70) rotate(-45)">WT</text>
<text x="0" y="0" font-size="8.0" fill="#1a1a1a" transform="translate(247.90,440.90) rotate(-45)"><tspan textLength="13.6" lengthAdjust="spacingAndGlyphs">Tln1</tspan><tspan font-size="5.4" dx="1.6" dy="-2.8">3mut</tspan></text>
<rect x="367.70" y="354.39" width="9.00" height="58.41" fill="#a5002c" />
<line x1="372.20" y1="343.48" x2="372.20" y2="366.19" stroke="#000" stroke-width="0.9" />
<line x1="370.30" y1="343.48" x2="374.10" y2="343.48" stroke="#000" stroke-width="1.0" />
<line x1="370.30" y1="366.19" x2="374.10" y2="366.19" stroke="#000" stroke-width="1.0" />
<rect x="383.45" y="372.44" width="8.40" height="40.36" fill="#2d4b82" stroke="#1f3b6e" stroke-width="0.7"/>
<line x1="387.65" y1="359.11" x2="387.65" y2="385.07" stroke="#000" stroke-width="0.9" />
<line x1="385.75" y1="359.11" x2="389.55" y2="359.11" stroke="#000" stroke-width="1.0" />
<line x1="385.75" y1="385.07" x2="389.55" y2="385.07" stroke="#000" stroke-width="1.0" />
<path d="M361.80,333.00 L361.80,412.80 L396.80,412.80" fill="none" stroke="#000" stroke-width="1.2"/>
<line x1="359.20" y1="412.80" x2="361.80" y2="412.80" stroke="#000" stroke-width="1.0" />
<text x="355.80" y="415.50" font-size="7.5" text-anchor="end" fill="#1a1a1a" >0</text>
<line x1="359.20" y1="401.00" x2="361.80" y2="401.00" stroke="#000" stroke-width="1.0" />
<text x="355.80" y="403.70" font-size="7.5" text-anchor="end" fill="#1a1a1a" >0.2</text>
<line x1="359.20" y1="389.20" x2="361.80" y2="389.20" stroke="#000" stroke-width="1.0" />
<text x="355.80" y="391.90" font-size="7.5" text-anchor="end" fill="#1a1a1a" >0.4</text>
<line x1="359.20" y1="377.40" x2="361.80" y2="377.40" stroke="#000" stroke-width="1.0" />
<text x="355.80" y="380.10" font-size="7.5" text-anchor="end" fill="#1a1a1a" >0.6</text>
<line x1="359.20" y1="365.60" x2="361.80" y2="365.60" stroke="#000" stroke-width="1.0" />
<text x="355.80" y="368.30" font-size="7.5" text-anchor="end" fill="#1a1a1a" >0.8</text>
<line x1="359.20" y1="353.80" x2="361.80" y2="353.80" stroke="#000" stroke-width="1.0" />
<text x="355.80" y="356.50" font-size="7.5" text-anchor="end" fill="#1a1a1a" >1.0</text>
<line x1="359.20" y1="342.00" x2="361.80" y2="342.00" stroke="#000" stroke-width="1.0" />
<text x="355.80" y="344.70" font-size="7.5" text-anchor="end" fill="#1a1a1a" >1.2</text>
<text x="0" y="0" font-size="9.0" text-anchor="middle" fill="#1a1a1a" transform="translate(338.70,372.60) rotate(-90)" textLength="92.00" lengthAdjust="spacingAndGlyphs">Relative 9EG7 intensity</text>
<text x="0" y="0" font-size="8.0" text-anchor="end" fill="#1a1a1a" transform="translate(378.80,420.20) rotate(-45)">WT</text>
<text x="0" y="0" font-size="8.0" fill="#1a1a1a" transform="translate(374.00,440.40) rotate(-45)"><tspan textLength="13.6" lengthAdjust="spacingAndGlyphs">Tln1</tspan><tspan font-size="5.4" dx="1.6" dy="-2.8">3mut</tspan></text>
<line x1="371.00" y1="336.50" x2="388.60" y2="336.50" stroke="#111" stroke-width="1.0" />
<text x="380.00" y="335.80" font-size="7.0" text-anchor="middle" fill="#1a1a1a" >*</text>
<path d="M240.87,245.26 L251.60,233.13 L267.70,219.88 L299.90,210.17" fill="none" stroke="#b3143e" stroke-width="1.4"/>
<path d="M240.87,243.25 L251.60,231.69 L267.70,218.92 L299.90,204.79" fill="none" stroke="#1f3f8a" stroke-width="1.4"/>
<line x1="240.87" y1="243.25" x2="240.87" y2="247.26" stroke="#b3143e" stroke-width="0.9" />
<line x1="239.17" y1="243.25" x2="242.57" y2="243.25" stroke="#b3143e" stroke-width="0.9" />
<line x1="239.17" y1="247.26" x2="242.57" y2="247.26" stroke="#b3143e" stroke-width="0.9" />
<line x1="251.60" y1="228.80" x2="251.60" y2="237.47" stroke="#b3143e" stroke-width="0.9" />
<line x1="249.90" y1="228.80" x2="253.30" y2="228.80" stroke="#b3143e" stroke-width="0.9" />
<line x1="249.90" y1="237.47" x2="253.30" y2="237.47" stroke="#b3143e" stroke-width="0.9" />
<line x1="267.70" y1="214.26" x2="267.70" y2="225.50" stroke="#b3143e" stroke-width="0.9" />
<line x1="266.00" y1="214.26" x2="269.40" y2="214.26" stroke="#b3143e" stroke-width="0.9" />
<line x1="266.00" y1="225.50" x2="269.40" y2="225.50" stroke="#b3143e" stroke-width="0.9" />
<line x1="299.90" y1="207.11" x2="299.90" y2="213.22" stroke="#b3143e" stroke-width="0.9" />
<line x1="298.20" y1="207.11" x2="301.60" y2="207.11" stroke="#b3143e" stroke-width="0.9" />
<line x1="298.20" y1="213.22" x2="301.60" y2="213.22" stroke="#b3143e" stroke-width="0.9" />
<line x1="240.87" y1="241.16" x2="240.87" y2="245.34" stroke="#1f3f8a" stroke-width="0.9" />
<line x1="239.17" y1="241.16" x2="242.57" y2="241.16" stroke="#1f3f8a" stroke-width="0.9" />
<line x1="239.17" y1="245.34" x2="242.57" y2="245.34" stroke="#1f3f8a" stroke-width="0.9" />
<line x1="251.60" y1="227.67" x2="251.60" y2="235.70" stroke="#1f3f8a" stroke-width="0.9" />
<line x1="249.90" y1="227.67" x2="253.30" y2="227.67" stroke="#1f3f8a" stroke-width="0.9" />
<line x1="249.90" y1="235.70" x2="253.30" y2="235.70" stroke="#1f3f8a" stroke-width="0.9" />
<line x1="267.70" y1="214.02" x2="267.70" y2="223.82" stroke="#1f3f8a" stroke-width="0.9" />
<line x1="266.00" y1="214.02" x2="269.40" y2="214.02" stroke="#1f3f8a" stroke-width="0.9" />
<line x1="266.00" y1="223.82" x2="269.40" y2="223.82" stroke="#1f3f8a" stroke-width="0.9" />
<line x1="299.90" y1="199.41" x2="299.90" y2="210.17" stroke="#1f3f8a" stroke-width="0.9" />
<line x1="298.20" y1="199.41" x2="301.60" y2="199.41" stroke="#1f3f8a" stroke-width="0.9" />
<line x1="298.20" y1="210.17" x2="301.60" y2="210.17" stroke="#1f3f8a" stroke-width="0.9" />
<path d="M235.50,184.60 L235.50,267.50 L302.50,267.50" fill="none" stroke="#000" stroke-width="1.2"/>
<line x1="232.90" y1="267.50" x2="235.50" y2="267.50" stroke="#000" stroke-width="1.0" />
<text x="229.50" y="270.20" font-size="7.5" text-anchor="end" fill="#1a1a1a" >0</text>
<line x1="232.90" y1="251.44" x2="235.50" y2="251.44" stroke="#000" stroke-width="1.0" />
<text x="229.50" y="254.14" font-size="7.5" text-anchor="end" fill="#1a1a1a" >200</text>
<line x1="232.90" y1="235.38" x2="235.50" y2="235.38" stroke="#000" stroke-width="1.0" />
<text x="229.50" y="238.08" font-size="7.5" text-anchor="end" fill="#1a1a1a" >400</text>
<line x1="232.90" y1="219.32" x2="235.50" y2="219.32" stroke="#000" stroke-width="1.0" />
<text x="229.50" y="222.02" font-size="7.5" text-anchor="end" fill="#1a1a1a" >600</text>
<line x1="232.90" y1="203.26" x2="235.50" y2="203.26" stroke="#000" stroke-width="1.0" />
<text x="229.50" y="205.96" font-size="7.5" text-anchor="end" fill="#1a1a1a" >800</text>
<line x1="232.90" y1="187.20" x2="235.50" y2="187.20" stroke="#000" stroke-width="1.0" />
<text x="229.50" y="189.90" font-size="7.5" text-anchor="end" fill="#1a1a1a" >1000</text>
<line x1="235.50" y1="267.50" x2="235.50" y2="270.10" stroke="#000" stroke-width="1.0" />
<text x="235.50" y="281.00" font-size="7.5" text-anchor="middle" fill="#1a1a1a" >0</text>
<line x1="251.60" y1="267.50" x2="251.60" y2="270.10" stroke="#000" stroke-width="1.0" />
<text x="251.60" y="281.00" font-size="7.5" text-anchor="middle" fill="#1a1a1a" >30</text>
<line x1="267.70" y1="267.50" x2="267.70" y2="270.10" stroke="#000" stroke-width="1.0" />
<text x="267.70" y="281.00" font-size="7.5" text-anchor="middle" fill="#1a1a1a" >60</text>
<line x1="283.80" y1="267.50" x2="283.80" y2="270.10" stroke="#000" stroke-width="1.0" />
<text x="283.80" y="281.00" font-size="7.5" text-anchor="middle" fill="#1a1a1a" >90</text>
<line x1="299.90" y1="267.50" x2="299.90" y2="270.10" stroke="#000" stroke-width="1.0" />
<text x="299.90" y="281.00" font-size="7.5" text-anchor="middle" fill="#1a1a1a" >120</text>
<text x="269.15" y="179.00" font-size="9.4" text-anchor="middle" fill="#1a1a1a" textLength="46.90" lengthAdjust="spacingAndGlyphs" >Fibronectin</text>
<text x="269.00" y="293.70" font-size="9.1" text-anchor="middle" fill="#1a1a1a" textLength="42.00" lengthAdjust="spacingAndGlyphs" >Time [min]</text>
<text x="0" y="0" font-size="9.1" text-anchor="middle" fill="#1a1a1a" transform="translate(205.60,225.0) rotate(-90)" textLength="85" lengthAdjust="spacingAndGlyphs">Spreading area [µm<tspan font-size="6" dy="-3">2</tspan><tspan dy="3">]</tspan></text>
<path d="M367.43,246.22 L378.10,226.71 L394.10,218.68 L426.10,206.39" fill="none" stroke="#b3143e" stroke-width="1.4"/>
<path d="M367.43,241.80 L378.10,226.55 L394.10,217.47 L426.10,204.22" fill="none" stroke="#1f3f8a" stroke-width="1.4"/>
<line x1="367.43" y1="242.61" x2="367.43" y2="249.83" stroke="#b3143e" stroke-width="0.9" />
<line x1="365.73" y1="242.61" x2="369.13" y2="242.61" stroke="#b3143e" stroke-width="0.9" />
<line x1="365.73" y1="249.83" x2="369.13" y2="249.83" stroke="#b3143e" stroke-width="0.9" />
<line x1="378.10" y1="222.05" x2="378.10" y2="231.37" stroke="#b3143e" stroke-width="0.9" />
<line x1="376.40" y1="222.05" x2="379.80" y2="222.05" stroke="#b3143e" stroke-width="0.9" />
<line x1="376.40" y1="231.37" x2="379.80" y2="231.37" stroke="#b3143e" stroke-width="0.9" />
<line x1="394.10" y1="213.30" x2="394.10" y2="224.06" stroke="#b3143e" stroke-width="0.9" />
<line x1="392.40" y1="213.30" x2="395.80" y2="213.30" stroke="#b3143e" stroke-width="0.9" />
<line x1="392.40" y1="224.06" x2="395.80" y2="224.06" stroke="#b3143e" stroke-width="0.9" />
<line x1="426.10" y1="203.18" x2="426.10" y2="209.60" stroke="#b3143e" stroke-width="0.9" />
<line x1="424.40" y1="203.18" x2="427.80" y2="203.18" stroke="#b3143e" stroke-width="0.9" />
<line x1="424.40" y1="209.60" x2="427.80" y2="209.60" stroke="#b3143e" stroke-width="0.9" />
<line x1="367.43" y1="236.99" x2="367.43" y2="246.62" stroke="#1f3f8a" stroke-width="0.9" />
<line x1="365.73" y1="236.99" x2="369.13" y2="236.99" stroke="#1f3f8a" stroke-width="0.9" />
<line x1="365.73" y1="246.62" x2="369.13" y2="246.62" stroke="#1f3f8a" stroke-width="0.9" />
<line x1="378.10" y1="224.30" x2="378.10" y2="228.80" stroke="#1f3f8a" stroke-width="0.9" />
<line x1="376.40" y1="224.30" x2="379.80" y2="224.30" stroke="#1f3f8a" stroke-width="0.9" />
<line x1="376.40" y1="228.80" x2="379.80" y2="228.80" stroke="#1f3f8a" stroke-width="0.9" />
<line x1="394.10" y1="213.78" x2="394.10" y2="221.17" stroke="#1f3f8a" stroke-width="0.9" />
<line x1="392.40" y1="213.78" x2="395.80" y2="213.78" stroke="#1f3f8a" stroke-width="0.9" />
<line x1="392.40" y1="221.17" x2="395.80" y2="221.17" stroke="#1f3f8a" stroke-width="0.9" />
<line x1="426.10" y1="193.62" x2="426.10" y2="214.82" stroke="#1f3f8a" stroke-width="0.9" />
<line x1="424.40" y1="193.62" x2="427.80" y2="193.62" stroke="#1f3f8a" stroke-width="0.9" />
<line x1="424.40" y1="214.82" x2="427.80" y2="214.82" stroke="#1f3f8a" stroke-width="0.9" />
<path d="M362.10,184.60 L362.10,267.50 L429.10,267.50" fill="none" stroke="#000" stroke-width="1.2"/>
<line x1="359.50" y1="267.50" x2="362.10" y2="267.50" stroke="#000" stroke-width="1.0" />
<text x="356.10" y="270.20" font-size="7.5" text-anchor="end" fill="#1a1a1a" >0</text>
<line x1="359.50" y1="251.44" x2="362.10" y2="251.44" stroke="#000" stroke-width="1.0" />
<text x="356.10" y="254.14" font-size="7.5" text-anchor="end" fill="#1a1a1a" >200</text>
<line x1="359.50" y1="235.38" x2="362.10" y2="235.38" stroke="#000" stroke-width="1.0" />
<text x="356.10" y="238.08" font-size="7.5" text-anchor="end" fill="#1a1a1a" >400</text>
<line x1="359.50" y1="219.32" x2="362.10" y2="219.32" stroke="#000" stroke-width="1.0" />
<text x="356.10" y="222.02" font-size="7.5" text-anchor="end" fill="#1a1a1a" >600</text>
<line x1="359.50" y1="203.26" x2="362.10" y2="203.26" stroke="#000" stroke-width="1.0" />
<text x="356.10" y="205.96" font-size="7.5" text-anchor="end" fill="#1a1a1a" >800</text>
<line x1="359.50" y1="187.20" x2="362.10" y2="187.20" stroke="#000" stroke-width="1.0" />
<text x="356.10" y="189.90" font-size="7.5" text-anchor="end" fill="#1a1a1a" >1000</text>
<line x1="362.10" y1="267.50" x2="362.10" y2="270.10" stroke="#000" stroke-width="1.0" />
<text x="362.10" y="281.00" font-size="7.5" text-anchor="middle" fill="#1a1a1a" >0</text>
<line x1="378.10" y1="267.50" x2="378.10" y2="270.10" stroke="#000" stroke-width="1.0" />
<text x="378.10" y="281.00" font-size="7.5" text-anchor="middle" fill="#1a1a1a" >30</text>
<line x1="394.10" y1="267.50" x2="394.10" y2="270.10" stroke="#000" stroke-width="1.0" />
<text x="394.10" y="281.00" font-size="7.5" text-anchor="middle" fill="#1a1a1a" >60</text>
<line x1="410.10" y1="267.50" x2="410.10" y2="270.10" stroke="#000" stroke-width="1.0" />
<text x="410.10" y="281.00" font-size="7.5" text-anchor="middle" fill="#1a1a1a" >90</text>
<line x1="426.10" y1="267.50" x2="426.10" y2="270.10" stroke="#000" stroke-width="1.0" />
<text x="426.10" y="281.00" font-size="7.5" text-anchor="middle" fill="#1a1a1a" >120</text>
<text x="394.95" y="179.00" font-size="9.4" text-anchor="middle" fill="#1a1a1a" textLength="29.10" lengthAdjust="spacingAndGlyphs" >ICAM-1</text>
<text x="395.60" y="293.70" font-size="9.1" text-anchor="middle" fill="#1a1a1a" textLength="42.00" lengthAdjust="spacingAndGlyphs" >Time [min]</text>
<text x="0" y="0" font-size="9.1" text-anchor="middle" fill="#1a1a1a" transform="translate(331.00,225.0) rotate(-90)" textLength="85" lengthAdjust="spacingAndGlyphs">Spreading area [µm<tspan font-size="6" dy="-3">2</tspan><tspan dy="3">]</tspan></text>
<line x1="385.50" y1="248.60" x2="397.60" y2="248.60" stroke="#b3143e" stroke-width="1.7" />
<text x="401.00" y="251.60" font-size="8.2" text-anchor="start" fill="#1a1a1a" textLength="11.00" lengthAdjust="spacingAndGlyphs" >WT</text>
<line x1="385.50" y1="260.00" x2="397.60" y2="260.00" stroke="#1f3f8a" stroke-width="1.7" />
<text x="401.00" y="263.00" font-size="8.2" text-anchor="start" fill="#1a1a1a" textLength="14.00" lengthAdjust="spacingAndGlyphs" >Tln1</text>
<text x="415.60" y="258.80" font-size="5.3" text-anchor="start" fill="#1a1a1a" textLength="12.80" lengthAdjust="spacingAndGlyphs" >3mut</text>
</svg></body></html>
